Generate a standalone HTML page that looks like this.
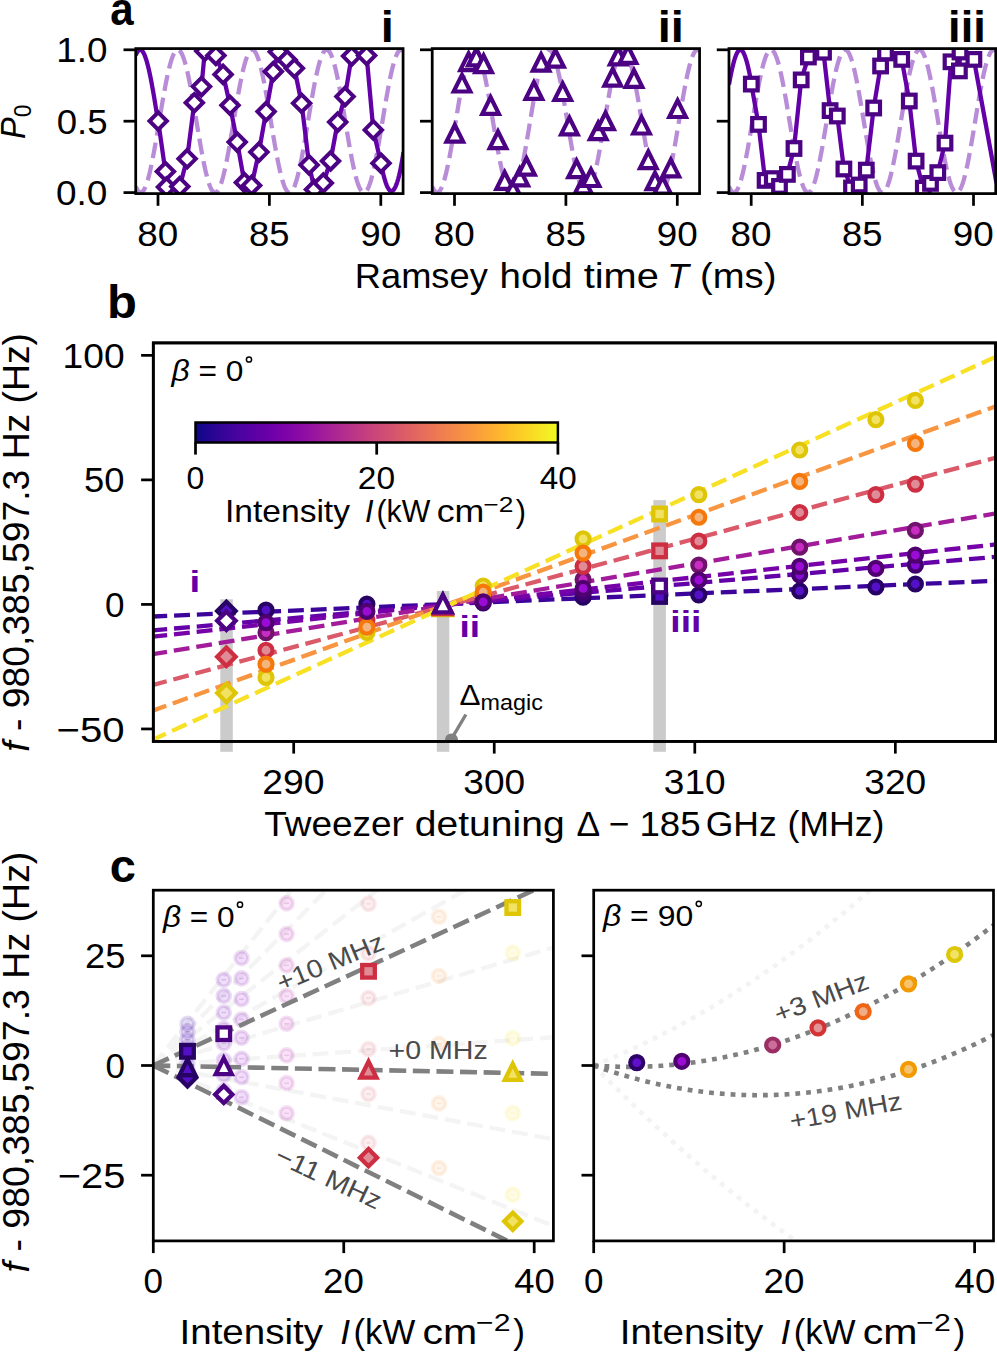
<!DOCTYPE html>
<html><head><meta charset="utf-8"><style>
html,body{margin:0;padding:0;background:#fff;}
svg{display:block;font-family:"Liberation Sans", sans-serif;}
</style></head><body>
<svg width="997" height="1352" viewBox="0 0 997 1352">
<rect width="997" height="1352" fill="#fff"/>
<defs>
<clipPath id="ca0"><rect x="135.72" y="48.6" width="267.36" height="145"/></clipPath>
<clipPath id="ca1"><rect x="432.22" y="48.6" width="267.36" height="145"/></clipPath>
<clipPath id="ca2"><rect x="728.97" y="48.6" width="266.76" height="145"/></clipPath>
<clipPath id="cb"><rect x="153.3" y="342.9" width="842.3" height="398.5"/></clipPath>
<clipPath id="cc1"><rect x="153.3" y="890.2" width="400.1" height="350.7"/></clipPath>
<clipPath id="cc2"><rect x="593.7" y="890.2" width="399.8" height="350.7"/></clipPath>
</defs>
<g clip-path="url(#ca0)">
<path d="M135.72 186.57 L136.39 188.09 L137.06 189.39 L137.73 190.48 L138.39 191.34 L139.06 191.98 L139.73 192.4 L140.4 192.59 L141.07 192.55 L141.74 192.28 L142.4 191.79 L143.07 191.08 L143.74 190.14 L144.41 188.98 L145.08 187.61 L145.75 186.02 L146.41 184.23 L147.08 182.24 L147.75 180.05 L148.42 177.67 L149.09 175.12 L149.76 172.39 L150.42 169.51 L151.09 166.46 L151.76 163.28 L152.43 159.96 L153.1 156.51 L153.77 152.95 L154.44 149.3 L155.1 145.55 L155.77 141.73 L156.44 137.84 L157.11 133.89 L157.78 129.91 L158.45 125.9 L159.11 121.87 L159.78 117.84 L160.45 113.83 L161.12 109.83 L161.79 105.87 L162.46 101.96 L163.12 98.12 L163.79 94.34 L164.46 90.65 L165.13 87.06 L165.8 83.58 L166.47 80.22 L167.13 76.98 L167.8 73.89 L168.47 70.95 L169.14 68.17 L169.81 65.56 L170.48 63.12 L171.15 60.87 L171.81 58.81 L172.48 56.95 L173.15 55.3 L173.82 53.85 L174.49 52.62 L175.16 51.61 L175.82 50.82 L176.49 50.25 L177.16 49.91 L177.83 49.8 L178.5 49.91 L179.17 50.25 L179.83 50.82 L180.5 51.61 L181.17 52.62 L181.84 53.85 L182.51 55.3 L183.18 56.95 L183.84 58.81 L184.51 60.87 L185.18 63.12 L185.85 65.56 L186.52 68.17 L187.19 70.95 L187.86 73.89 L188.52 76.98 L189.19 80.22 L189.86 83.58 L190.53 87.06 L191.2 90.65 L191.87 94.34 L192.53 98.12 L193.2 101.96 L193.87 105.87 L194.54 109.83 L195.21 113.83 L195.88 117.84 L196.54 121.87 L197.21 125.9 L197.88 129.91 L198.55 133.89 L199.22 137.84 L199.89 141.73 L200.55 145.55 L201.22 149.3 L201.89 152.95 L202.56 156.51 L203.23 159.96 L203.9 163.28 L204.57 166.46 L205.23 169.51 L205.9 172.39 L206.57 175.12 L207.24 177.67 L207.91 180.05 L208.58 182.24 L209.24 184.23 L209.91 186.02 L210.58 187.61 L211.25 188.98 L211.92 190.14 L212.59 191.08 L213.25 191.79 L213.92 192.28 L214.59 192.55 L215.26 192.59 L215.93 192.4 L216.6 191.98 L217.26 191.34 L217.93 190.48 L218.6 189.39 L219.27 188.09 L219.94 186.57 L220.61 184.85 L221.28 182.92 L221.94 180.8 L222.61 178.49 L223.28 175.99 L223.95 173.32 L224.62 170.49 L225.29 167.49 L225.95 164.35 L226.62 161.08 L227.29 157.67 L227.96 154.15 L228.63 150.53 L229.3 146.81 L229.96 143.01 L230.63 139.14 L231.3 135.21 L231.97 131.24 L232.64 127.24 L233.31 123.21 L233.97 119.19 L234.64 115.16 L235.31 111.16 L235.98 107.19 L236.65 103.26 L237.32 99.39 L237.99 95.59 L238.65 91.87 L239.32 88.25 L239.99 84.73 L240.66 81.32 L241.33 78.05 L242 74.91 L242.66 71.91 L243.33 69.08 L244 66.41 L244.67 63.91 L245.34 61.6 L246.01 59.48 L246.67 57.55 L247.34 55.83 L248.01 54.31 L248.68 53.01 L249.35 51.92 L250.02 51.06 L250.68 50.42 L251.35 50 L252.02 49.81 L252.69 49.85 L253.36 50.12 L254.03 50.61 L254.7 51.32 L255.36 52.26 L256.03 53.42 L256.7 54.79 L257.37 56.38 L258.04 58.17 L258.71 60.16 L259.37 62.35 L260.04 64.73 L260.71 67.28 L261.38 70.01 L262.05 72.89 L262.72 75.94 L263.38 79.12 L264.05 82.44 L264.72 85.89 L265.39 89.45 L266.06 93.1 L266.73 96.85 L267.39 100.67 L268.06 104.56 L268.73 108.51 L269.4 112.49 L270.07 116.5 L270.74 120.53 L271.41 124.56 L272.07 128.57 L272.74 132.57 L273.41 136.53 L274.08 140.44 L274.75 144.28 L275.42 148.06 L276.08 151.75 L276.75 155.34 L277.42 158.82 L278.09 162.18 L278.76 165.42 L279.43 168.51 L280.09 171.45 L280.76 174.23 L281.43 176.84 L282.1 179.28 L282.77 181.53 L283.44 183.59 L284.1 185.45 L284.77 187.1 L285.44 188.55 L286.11 189.78 L286.78 190.79 L287.45 191.58 L288.12 192.15 L288.78 192.49 L289.45 192.6 L290.12 192.49 L290.79 192.15 L291.46 191.58 L292.13 190.79 L292.79 189.78 L293.46 188.55 L294.13 187.1 L294.8 185.45 L295.47 183.59 L296.14 181.53 L296.8 179.28 L297.47 176.84 L298.14 174.23 L298.81 171.45 L299.48 168.51 L300.15 165.42 L300.81 162.18 L301.48 158.82 L302.15 155.34 L302.82 151.75 L303.49 148.06 L304.16 144.28 L304.83 140.44 L305.49 136.53 L306.16 132.57 L306.83 128.57 L307.5 124.56 L308.17 120.53 L308.84 116.5 L309.5 112.49 L310.17 108.51 L310.84 104.56 L311.51 100.67 L312.18 96.85 L312.85 93.1 L313.51 89.45 L314.18 85.89 L314.85 82.44 L315.52 79.12 L316.19 75.94 L316.86 72.89 L317.52 70.01 L318.19 67.28 L318.86 64.73 L319.53 62.35 L320.2 60.16 L320.87 58.17 L321.54 56.38 L322.2 54.79 L322.87 53.42 L323.54 52.26 L324.21 51.32 L324.88 50.61 L325.55 50.12 L326.21 49.85 L326.88 49.81 L327.55 50 L328.22 50.42 L328.89 51.06 L329.56 51.92 L330.22 53.01 L330.89 54.31 L331.56 55.83 L332.23 57.55 L332.9 59.48 L333.57 61.6 L334.23 63.91 L334.9 66.41 L335.57 69.08 L336.24 71.91 L336.91 74.91 L337.58 78.05 L338.25 81.32 L338.91 84.73 L339.58 88.25 L340.25 91.87 L340.92 95.59 L341.59 99.39 L342.26 103.26 L342.92 107.19 L343.59 111.16 L344.26 115.16 L344.93 119.19 L345.6 123.21 L346.27 127.24 L346.93 131.24 L347.6 135.21 L348.27 139.14 L348.94 143.01 L349.61 146.81 L350.28 150.53 L350.94 154.15 L351.61 157.67 L352.28 161.08 L352.95 164.35 L353.62 167.49 L354.29 170.49 L354.96 173.32 L355.62 175.99 L356.29 178.49 L356.96 180.8 L357.63 182.92 L358.3 184.85 L358.97 186.57 L359.63 188.09 L360.3 189.39 L360.97 190.48 L361.64 191.34 L362.31 191.98 L362.98 192.4 L363.64 192.59 L364.31 192.55 L364.98 192.28 L365.65 191.79 L366.32 191.08 L366.99 190.14 L367.65 188.98 L368.32 187.61 L368.99 186.02 L369.66 184.23 L370.33 182.24 L371 180.05 L371.67 177.67 L372.33 175.12 L373 172.39 L373.67 169.51 L374.34 166.46 L375.01 163.28 L375.68 159.96 L376.34 156.51 L377.01 152.95 L377.68 149.3 L378.35 145.55 L379.02 141.73 L379.69 137.84 L380.35 133.89 L381.02 129.91 L381.69 125.9 L382.36 121.87 L383.03 117.84 L383.7 113.83 L384.36 109.83 L385.03 105.87 L385.7 101.96 L386.37 98.12 L387.04 94.34 L387.71 90.65 L388.38 87.06 L389.04 83.58 L389.71 80.22 L390.38 76.98 L391.05 73.89 L391.72 70.95 L392.39 68.17 L393.05 65.56 L393.72 63.12 L394.39 60.87 L395.06 58.81 L395.73 56.95 L396.4 55.3 L397.06 53.85 L397.73 52.62 L398.4 51.61 L399.07 50.82 L399.74 50.25 L400.41 49.91 L401.07 49.8 L401.74 49.91 L402.41 50.25 L403.08 50.82" fill="none" stroke="#b98cd8" stroke-width="4.3" stroke-dasharray="15.9 6.9" stroke-linejoin="round"/>
<path d="M135.72 55.24 L136.28 53.97 L136.83 52.87 L137.39 51.94 L137.95 51.17 L138.5 50.57 L139.06 50.14 L139.62 49.89 L140.18 49.8 L140.73 49.89 L141.29 50.14 L141.85 50.57 L142.4 51.17 L142.96 51.94 L143.52 52.87 L144.07 53.97 L144.63 55.24 L145.19 56.66 L145.75 58.23 L146.3 59.96 L146.86 61.83 L147.42 63.85 L147.97 66.01 L148.53 68.3 L149.09 70.71 L149.65 73.25 L150.2 75.9 L150.76 78.67 L151.32 81.53 L151.87 84.49 L152.43 87.54 L152.99 90.67 L153.54 93.88 L154.1 97.15 L154.66 100.47 L155.22 103.85 L155.77 107.27 L156.33 110.72 L156.89 114.2 L157.44 117.7 L158.2 121 L165.4 171.5 L166.5 187.1 L179.8 186.5 L187.1 158.8 L194.3 102.7 L201.5 86.6 L204.8 51.1 L215.9 55.5 L223.1 74.4 L230 105.3 L237.2 142.1 L244.4 182.6 L251.6 185.4 L258.9 152.1 L266.1 111.6 L273.3 71.6 L278.3 51.7 L287.2 60 L294.4 68.3 L301.6 103.3 L309.1 164.9 L314.5 189.5 L323.3 183 L330.5 161 L337.7 122.1 L345 96.6 L351.6 56.1 L366.6 55.5 L373.3 129.9 L381 163.2 L381.79 167.24 L382.58 170.95 L383.37 174.36 L384.16 177.45 L384.95 180.22 L385.74 182.67 L386.52 184.81 L387.31 186.64 L388.09 188.15 L388.87 189.34 L389.65 190.22 L390.43 190.78 L391.21 191.02 L391.99 190.95 L392.76 190.57 L393.54 189.87 L394.31 188.85 L395.08 187.51 L395.85 185.86 L396.62 183.9 L397.39 181.62 L398.16 179.02 L398.93 176.11 L399.69 172.88 L400.46 169.34 L401.22 165.48 L401.98 161.3 L402.74 156.81 L403.5 152" fill="none" stroke="#6400a7" stroke-width="4.3" stroke-linejoin="round"/>
<path d="M158.2 112.3L166.9 121L158.2 129.7L149.5 121Z" fill="#fff" stroke="#4b0283" stroke-width="4" stroke-linejoin="miter"/>
<path d="M165.4 162.8L174.1 171.5L165.4 180.2L156.7 171.5Z" fill="#fff" stroke="#4b0283" stroke-width="4" stroke-linejoin="miter"/>
<path d="M166.5 178.4L175.2 187.1L166.5 195.8L157.8 187.1Z" fill="#fff" stroke="#4b0283" stroke-width="4" stroke-linejoin="miter"/>
<path d="M179.8 177.8L188.5 186.5L179.8 195.2L171.1 186.5Z" fill="#fff" stroke="#4b0283" stroke-width="4" stroke-linejoin="miter"/>
<path d="M187.1 150.1L195.8 158.8L187.1 167.5L178.4 158.8Z" fill="#fff" stroke="#4b0283" stroke-width="4" stroke-linejoin="miter"/>
<path d="M194.3 94L203 102.7L194.3 111.4L185.6 102.7Z" fill="#fff" stroke="#4b0283" stroke-width="4" stroke-linejoin="miter"/>
<path d="M201.5 77.9L210.2 86.6L201.5 95.3L192.8 86.6Z" fill="#fff" stroke="#4b0283" stroke-width="4" stroke-linejoin="miter"/>
<path d="M204.8 42.4L213.5 51.1L204.8 59.8L196.1 51.1Z" fill="#fff" stroke="#4b0283" stroke-width="4" stroke-linejoin="miter"/>
<path d="M215.9 46.8L224.6 55.5L215.9 64.2L207.2 55.5Z" fill="#fff" stroke="#4b0283" stroke-width="4" stroke-linejoin="miter"/>
<path d="M223.1 65.7L231.8 74.4L223.1 83.1L214.4 74.4Z" fill="#fff" stroke="#4b0283" stroke-width="4" stroke-linejoin="miter"/>
<path d="M230 96.6L238.7 105.3L230 114L221.3 105.3Z" fill="#fff" stroke="#4b0283" stroke-width="4" stroke-linejoin="miter"/>
<path d="M237.2 133.4L245.9 142.1L237.2 150.8L228.5 142.1Z" fill="#fff" stroke="#4b0283" stroke-width="4" stroke-linejoin="miter"/>
<path d="M244.4 173.9L253.1 182.6L244.4 191.3L235.7 182.6Z" fill="#fff" stroke="#4b0283" stroke-width="4" stroke-linejoin="miter"/>
<path d="M251.6 176.7L260.3 185.4L251.6 194.1L242.9 185.4Z" fill="#fff" stroke="#4b0283" stroke-width="4" stroke-linejoin="miter"/>
<path d="M258.9 143.4L267.6 152.1L258.9 160.8L250.2 152.1Z" fill="#fff" stroke="#4b0283" stroke-width="4" stroke-linejoin="miter"/>
<path d="M266.1 102.9L274.8 111.6L266.1 120.3L257.4 111.6Z" fill="#fff" stroke="#4b0283" stroke-width="4" stroke-linejoin="miter"/>
<path d="M273.3 62.9L282 71.6L273.3 80.3L264.6 71.6Z" fill="#fff" stroke="#4b0283" stroke-width="4" stroke-linejoin="miter"/>
<path d="M278.3 43L287 51.7L278.3 60.4L269.6 51.7Z" fill="#fff" stroke="#4b0283" stroke-width="4" stroke-linejoin="miter"/>
<path d="M287.2 51.3L295.9 60L287.2 68.7L278.5 60Z" fill="#fff" stroke="#4b0283" stroke-width="4" stroke-linejoin="miter"/>
<path d="M294.4 59.6L303.1 68.3L294.4 77L285.7 68.3Z" fill="#fff" stroke="#4b0283" stroke-width="4" stroke-linejoin="miter"/>
<path d="M301.6 94.6L310.3 103.3L301.6 112L292.9 103.3Z" fill="#fff" stroke="#4b0283" stroke-width="4" stroke-linejoin="miter"/>
<path d="M309.1 156.2L317.8 164.9L309.1 173.6L300.4 164.9Z" fill="#fff" stroke="#4b0283" stroke-width="4" stroke-linejoin="miter"/>
<path d="M314.5 180.8L323.2 189.5L314.5 198.2L305.8 189.5Z" fill="#fff" stroke="#4b0283" stroke-width="4" stroke-linejoin="miter"/>
<path d="M323.3 174.3L332 183L323.3 191.7L314.6 183Z" fill="#fff" stroke="#4b0283" stroke-width="4" stroke-linejoin="miter"/>
<path d="M330.5 152.3L339.2 161L330.5 169.7L321.8 161Z" fill="#fff" stroke="#4b0283" stroke-width="4" stroke-linejoin="miter"/>
<path d="M337.7 113.4L346.4 122.1L337.7 130.8L329 122.1Z" fill="#fff" stroke="#4b0283" stroke-width="4" stroke-linejoin="miter"/>
<path d="M345 87.9L353.7 96.6L345 105.3L336.3 96.6Z" fill="#fff" stroke="#4b0283" stroke-width="4" stroke-linejoin="miter"/>
<path d="M351.6 47.4L360.3 56.1L351.6 64.8L342.9 56.1Z" fill="#fff" stroke="#4b0283" stroke-width="4" stroke-linejoin="miter"/>
<path d="M366.6 46.8L375.3 55.5L366.6 64.2L357.9 55.5Z" fill="#fff" stroke="#4b0283" stroke-width="4" stroke-linejoin="miter"/>
<path d="M373.3 121.2L382 129.9L373.3 138.6L364.6 129.9Z" fill="#fff" stroke="#4b0283" stroke-width="4" stroke-linejoin="miter"/>
<path d="M381 154.5L389.7 163.2L381 171.9L372.3 163.2Z" fill="#fff" stroke="#4b0283" stroke-width="4" stroke-linejoin="miter"/>
</g>
<rect x="135.72" y="48.6" width="267.36" height="145" fill="none" stroke="#000" stroke-width="2.74" stroke-linejoin="miter"/>
<line x1="158" y1="193.6" x2="158" y2="205.8" stroke="#000" stroke-width="2.74"/>
<text x="137.36" y="246" font-size="35.4" fill="#000" textLength="41" lengthAdjust="spacingAndGlyphs"><tspan>80</tspan></text>
<line x1="269.4" y1="193.6" x2="269.4" y2="205.8" stroke="#000" stroke-width="2.74"/>
<text x="249.11" y="246" font-size="35.4" fill="#000" textLength="40.47" lengthAdjust="spacingAndGlyphs"><tspan>85</tspan></text>
<line x1="380.8" y1="193.6" x2="380.8" y2="205.8" stroke="#000" stroke-width="2.74"/>
<text x="360.16" y="246" font-size="35.4" fill="#000" textLength="41" lengthAdjust="spacingAndGlyphs"><tspan>90</tspan></text>
<line x1="135.72" y1="192.6" x2="123.52" y2="192.6" stroke="#000" stroke-width="2.74"/>
<line x1="135.72" y1="121.2" x2="123.52" y2="121.2" stroke="#000" stroke-width="2.74"/>
<line x1="135.72" y1="49.8" x2="123.52" y2="49.8" stroke="#000" stroke-width="2.74"/>
<text x="56" y="205.17" font-size="35.4" fill="#000" textLength="51.4" lengthAdjust="spacingAndGlyphs"><tspan>0.0</tspan></text>
<text x="56.68" y="133.77" font-size="35.4" fill="#000" textLength="50.89" lengthAdjust="spacingAndGlyphs"><tspan>0.5</tspan></text>
<text x="56.22" y="62.37" font-size="35.4" fill="#000" textLength="51.17" lengthAdjust="spacingAndGlyphs"><tspan>1.0</tspan></text>
<g clip-path="url(#ca1)">
<path d="M432.22 186.57 L432.89 188.09 L433.56 189.39 L434.23 190.48 L434.89 191.34 L435.56 191.98 L436.23 192.4 L436.9 192.59 L437.57 192.55 L438.24 192.28 L438.9 191.79 L439.57 191.08 L440.24 190.14 L440.91 188.98 L441.58 187.61 L442.25 186.02 L442.91 184.23 L443.58 182.24 L444.25 180.05 L444.92 177.67 L445.59 175.12 L446.26 172.39 L446.92 169.51 L447.59 166.46 L448.26 163.28 L448.93 159.96 L449.6 156.51 L450.27 152.95 L450.94 149.3 L451.6 145.55 L452.27 141.73 L452.94 137.84 L453.61 133.89 L454.28 129.91 L454.95 125.9 L455.61 121.87 L456.28 117.84 L456.95 113.83 L457.62 109.83 L458.29 105.87 L458.96 101.96 L459.62 98.12 L460.29 94.34 L460.96 90.65 L461.63 87.06 L462.3 83.58 L462.97 80.22 L463.63 76.98 L464.3 73.89 L464.97 70.95 L465.64 68.17 L466.31 65.56 L466.98 63.12 L467.65 60.87 L468.31 58.81 L468.98 56.95 L469.65 55.3 L470.32 53.85 L470.99 52.62 L471.66 51.61 L472.32 50.82 L472.99 50.25 L473.66 49.91 L474.33 49.8 L475 49.91 L475.67 50.25 L476.33 50.82 L477 51.61 L477.67 52.62 L478.34 53.85 L479.01 55.3 L479.68 56.95 L480.34 58.81 L481.01 60.87 L481.68 63.12 L482.35 65.56 L483.02 68.17 L483.69 70.95 L484.36 73.89 L485.02 76.98 L485.69 80.22 L486.36 83.58 L487.03 87.06 L487.7 90.65 L488.37 94.34 L489.03 98.12 L489.7 101.96 L490.37 105.87 L491.04 109.83 L491.71 113.83 L492.38 117.84 L493.04 121.87 L493.71 125.9 L494.38 129.91 L495.05 133.89 L495.72 137.84 L496.39 141.73 L497.05 145.55 L497.72 149.3 L498.39 152.95 L499.06 156.51 L499.73 159.96 L500.4 163.28 L501.07 166.46 L501.73 169.51 L502.4 172.39 L503.07 175.12 L503.74 177.67 L504.41 180.05 L505.08 182.24 L505.74 184.23 L506.41 186.02 L507.08 187.61 L507.75 188.98 L508.42 190.14 L509.09 191.08 L509.75 191.79 L510.42 192.28 L511.09 192.55 L511.76 192.59 L512.43 192.4 L513.1 191.98 L513.76 191.34 L514.43 190.48 L515.1 189.39 L515.77 188.09 L516.44 186.57 L517.11 184.85 L517.78 182.92 L518.44 180.8 L519.11 178.49 L519.78 175.99 L520.45 173.32 L521.12 170.49 L521.79 167.49 L522.45 164.35 L523.12 161.08 L523.79 157.67 L524.46 154.15 L525.13 150.53 L525.8 146.81 L526.46 143.01 L527.13 139.14 L527.8 135.21 L528.47 131.24 L529.14 127.24 L529.81 123.21 L530.47 119.19 L531.14 115.16 L531.81 111.16 L532.48 107.19 L533.15 103.26 L533.82 99.39 L534.49 95.59 L535.15 91.87 L535.82 88.25 L536.49 84.73 L537.16 81.32 L537.83 78.05 L538.5 74.91 L539.16 71.91 L539.83 69.08 L540.5 66.41 L541.17 63.91 L541.84 61.6 L542.51 59.48 L543.17 57.55 L543.84 55.83 L544.51 54.31 L545.18 53.01 L545.85 51.92 L546.52 51.06 L547.18 50.42 L547.85 50 L548.52 49.81 L549.19 49.85 L549.86 50.12 L550.53 50.61 L551.2 51.32 L551.86 52.26 L552.53 53.42 L553.2 54.79 L553.87 56.38 L554.54 58.17 L555.21 60.16 L555.87 62.35 L556.54 64.73 L557.21 67.28 L557.88 70.01 L558.55 72.89 L559.22 75.94 L559.88 79.12 L560.55 82.44 L561.22 85.89 L561.89 89.45 L562.56 93.1 L563.23 96.85 L563.89 100.67 L564.56 104.56 L565.23 108.51 L565.9 112.49 L566.57 116.5 L567.24 120.53 L567.91 124.56 L568.57 128.57 L569.24 132.57 L569.91 136.53 L570.58 140.44 L571.25 144.28 L571.92 148.06 L572.58 151.75 L573.25 155.34 L573.92 158.82 L574.59 162.18 L575.26 165.42 L575.93 168.51 L576.59 171.45 L577.26 174.23 L577.93 176.84 L578.6 179.28 L579.27 181.53 L579.94 183.59 L580.6 185.45 L581.27 187.1 L581.94 188.55 L582.61 189.78 L583.28 190.79 L583.95 191.58 L584.62 192.15 L585.28 192.49 L585.95 192.6 L586.62 192.49 L587.29 192.15 L587.96 191.58 L588.63 190.79 L589.29 189.78 L589.96 188.55 L590.63 187.1 L591.3 185.45 L591.97 183.59 L592.64 181.53 L593.3 179.28 L593.97 176.84 L594.64 174.23 L595.31 171.45 L595.98 168.51 L596.65 165.42 L597.31 162.18 L597.98 158.82 L598.65 155.34 L599.32 151.75 L599.99 148.06 L600.66 144.28 L601.33 140.44 L601.99 136.53 L602.66 132.57 L603.33 128.57 L604 124.56 L604.67 120.53 L605.34 116.5 L606 112.49 L606.67 108.51 L607.34 104.56 L608.01 100.67 L608.68 96.85 L609.35 93.1 L610.01 89.45 L610.68 85.89 L611.35 82.44 L612.02 79.12 L612.69 75.94 L613.36 72.89 L614.02 70.01 L614.69 67.28 L615.36 64.73 L616.03 62.35 L616.7 60.16 L617.37 58.17 L618.04 56.38 L618.7 54.79 L619.37 53.42 L620.04 52.26 L620.71 51.32 L621.38 50.61 L622.05 50.12 L622.71 49.85 L623.38 49.81 L624.05 50 L624.72 50.42 L625.39 51.06 L626.06 51.92 L626.72 53.01 L627.39 54.31 L628.06 55.83 L628.73 57.55 L629.4 59.48 L630.07 61.6 L630.73 63.91 L631.4 66.41 L632.07 69.08 L632.74 71.91 L633.41 74.91 L634.08 78.05 L634.75 81.32 L635.41 84.73 L636.08 88.25 L636.75 91.87 L637.42 95.59 L638.09 99.39 L638.76 103.26 L639.42 107.19 L640.09 111.16 L640.76 115.16 L641.43 119.19 L642.1 123.21 L642.77 127.24 L643.43 131.24 L644.1 135.21 L644.77 139.14 L645.44 143.01 L646.11 146.81 L646.78 150.53 L647.44 154.15 L648.11 157.67 L648.78 161.08 L649.45 164.35 L650.12 167.49 L650.79 170.49 L651.46 173.32 L652.12 175.99 L652.79 178.49 L653.46 180.8 L654.13 182.92 L654.8 184.85 L655.47 186.57 L656.13 188.09 L656.8 189.39 L657.47 190.48 L658.14 191.34 L658.81 191.98 L659.48 192.4 L660.14 192.59 L660.81 192.55 L661.48 192.28 L662.15 191.79 L662.82 191.08 L663.49 190.14 L664.15 188.98 L664.82 187.61 L665.49 186.02 L666.16 184.23 L666.83 182.24 L667.5 180.05 L668.17 177.67 L668.83 175.12 L669.5 172.39 L670.17 169.51 L670.84 166.46 L671.51 163.28 L672.18 159.96 L672.84 156.51 L673.51 152.95 L674.18 149.3 L674.85 145.55 L675.52 141.73 L676.19 137.84 L676.85 133.89 L677.52 129.91 L678.19 125.9 L678.86 121.87 L679.53 117.84 L680.2 113.83 L680.86 109.83 L681.53 105.87 L682.2 101.96 L682.87 98.12 L683.54 94.34 L684.21 90.65 L684.88 87.06 L685.54 83.58 L686.21 80.22 L686.88 76.98 L687.55 73.89 L688.22 70.95 L688.89 68.17 L689.55 65.56 L690.22 63.12 L690.89 60.87 L691.56 58.81 L692.23 56.95 L692.9 55.3 L693.56 53.85 L694.23 52.62 L694.9 51.61 L695.57 50.82 L696.24 50.25 L696.91 49.91 L697.57 49.8 L698.24 49.91 L698.91 50.25 L699.58 50.82" fill="none" stroke="#b98cd8" stroke-width="4.3" stroke-dasharray="15.9 6.9" stroke-linejoin="round"/>
<path d="M454.8 125L463.1 141.6L446.5 141.6Z" fill="#fff" stroke="#4b0283" stroke-width="4.2" stroke-linejoin="miter" stroke-miterlimit="10"/>
<path d="M462 74.9L470.3 91.5L453.7 91.5Z" fill="#fff" stroke="#4b0283" stroke-width="4.2" stroke-linejoin="miter" stroke-miterlimit="10"/>
<path d="M468.6 53.5L476.9 70.1L460.3 70.1Z" fill="#fff" stroke="#4b0283" stroke-width="4.2" stroke-linejoin="miter" stroke-miterlimit="10"/>
<path d="M476.4 48.8L484.7 65.4L468.1 65.4Z" fill="#fff" stroke="#4b0283" stroke-width="4.2" stroke-linejoin="miter" stroke-miterlimit="10"/>
<path d="M483.6 55.5L491.9 72.1L475.3 72.1Z" fill="#fff" stroke="#4b0283" stroke-width="4.2" stroke-linejoin="miter" stroke-miterlimit="10"/>
<path d="M490.6 97.3L498.9 113.9L482.3 113.9Z" fill="#fff" stroke="#4b0283" stroke-width="4.2" stroke-linejoin="miter" stroke-miterlimit="10"/>
<path d="M498 131.5L506.3 148.1L489.7 148.1Z" fill="#fff" stroke="#4b0283" stroke-width="4.2" stroke-linejoin="miter" stroke-miterlimit="10"/>
<path d="M504.7 172.2L513 188.8L496.4 188.8Z" fill="#fff" stroke="#4b0283" stroke-width="4.2" stroke-linejoin="miter" stroke-miterlimit="10"/>
<path d="M513 181.2L521.3 197.8L504.7 197.8Z" fill="#fff" stroke="#4b0283" stroke-width="4.2" stroke-linejoin="miter" stroke-miterlimit="10"/>
<path d="M519.7 168.7L528 185.3L511.4 185.3Z" fill="#fff" stroke="#4b0283" stroke-width="4.2" stroke-linejoin="miter" stroke-miterlimit="10"/>
<path d="M526.5 158.1L534.8 174.7L518.2 174.7Z" fill="#fff" stroke="#4b0283" stroke-width="4.2" stroke-linejoin="miter" stroke-miterlimit="10"/>
<path d="M533.9 82.3L542.2 98.9L525.6 98.9Z" fill="#fff" stroke="#4b0283" stroke-width="4.2" stroke-linejoin="miter" stroke-miterlimit="10"/>
<path d="M541.1 54.1L549.4 70.7L532.8 70.7Z" fill="#fff" stroke="#4b0283" stroke-width="4.2" stroke-linejoin="miter" stroke-miterlimit="10"/>
<path d="M555.5 50.1L563.8 66.7L547.2 66.7Z" fill="#fff" stroke="#4b0283" stroke-width="4.2" stroke-linejoin="miter" stroke-miterlimit="10"/>
<path d="M562.7 83.4L571 100L554.4 100Z" fill="#fff" stroke="#4b0283" stroke-width="4.2" stroke-linejoin="miter" stroke-miterlimit="10"/>
<path d="M569.4 117.8L577.7 134.4L561.1 134.4Z" fill="#fff" stroke="#4b0283" stroke-width="4.2" stroke-linejoin="miter" stroke-miterlimit="10"/>
<path d="M576.6 160.6L584.9 177.2L568.3 177.2Z" fill="#fff" stroke="#4b0283" stroke-width="4.2" stroke-linejoin="miter" stroke-miterlimit="10"/>
<path d="M583.3 176.7L591.6 193.3L575 193.3Z" fill="#fff" stroke="#4b0283" stroke-width="4.2" stroke-linejoin="miter" stroke-miterlimit="10"/>
<path d="M591 169.4L599.3 186L582.7 186Z" fill="#fff" stroke="#4b0283" stroke-width="4.2" stroke-linejoin="miter" stroke-miterlimit="10"/>
<path d="M598.2 122.6L606.5 139.2L589.9 139.2Z" fill="#fff" stroke="#4b0283" stroke-width="4.2" stroke-linejoin="miter" stroke-miterlimit="10"/>
<path d="M605.5 112.6L613.8 129.2L597.2 129.2Z" fill="#fff" stroke="#4b0283" stroke-width="4.2" stroke-linejoin="miter" stroke-miterlimit="10"/>
<path d="M612.7 69L621 85.6L604.4 85.6Z" fill="#fff" stroke="#4b0283" stroke-width="4.2" stroke-linejoin="miter" stroke-miterlimit="10"/>
<path d="M618.2 47.7L626.5 64.3L609.9 64.3Z" fill="#fff" stroke="#4b0283" stroke-width="4.2" stroke-linejoin="miter" stroke-miterlimit="10"/>
<path d="M628 46.2L636.3 62.8L619.7 62.8Z" fill="#fff" stroke="#4b0283" stroke-width="4.2" stroke-linejoin="miter" stroke-miterlimit="10"/>
<path d="M634 70.3L642.3 86.9L625.7 86.9Z" fill="#fff" stroke="#4b0283" stroke-width="4.2" stroke-linejoin="miter" stroke-miterlimit="10"/>
<path d="M641.5 116.9L649.8 133.5L633.2 133.5Z" fill="#fff" stroke="#4b0283" stroke-width="4.2" stroke-linejoin="miter" stroke-miterlimit="10"/>
<path d="M648.3 151.5L656.6 168.1L640 168.1Z" fill="#fff" stroke="#4b0283" stroke-width="4.2" stroke-linejoin="miter" stroke-miterlimit="10"/>
<path d="M655 172.6L663.3 189.2L646.7 189.2Z" fill="#fff" stroke="#4b0283" stroke-width="4.2" stroke-linejoin="miter" stroke-miterlimit="10"/>
<path d="M662.6 177.1L670.9 193.7L654.3 193.7Z" fill="#fff" stroke="#4b0283" stroke-width="4.2" stroke-linejoin="miter" stroke-miterlimit="10"/>
<path d="M670.8 159.8L679.1 176.4L662.5 176.4Z" fill="#fff" stroke="#4b0283" stroke-width="4.2" stroke-linejoin="miter" stroke-miterlimit="10"/>
<path d="M677.6 100.4L685.9 117L669.3 117Z" fill="#fff" stroke="#4b0283" stroke-width="4.2" stroke-linejoin="miter" stroke-miterlimit="10"/>
</g>
<rect x="432.22" y="48.6" width="267.36" height="145" fill="none" stroke="#000" stroke-width="2.74" stroke-linejoin="miter"/>
<line x1="454.5" y1="193.6" x2="454.5" y2="205.8" stroke="#000" stroke-width="2.74"/>
<text x="433.86" y="246" font-size="35.4" fill="#000" textLength="41" lengthAdjust="spacingAndGlyphs"><tspan>80</tspan></text>
<line x1="565.9" y1="193.6" x2="565.9" y2="205.8" stroke="#000" stroke-width="2.74"/>
<text x="545.61" y="246" font-size="35.4" fill="#000" textLength="40.47" lengthAdjust="spacingAndGlyphs"><tspan>85</tspan></text>
<line x1="677.3" y1="193.6" x2="677.3" y2="205.8" stroke="#000" stroke-width="2.74"/>
<text x="656.66" y="246" font-size="35.4" fill="#000" textLength="41" lengthAdjust="spacingAndGlyphs"><tspan>90</tspan></text>
<line x1="432.22" y1="192.6" x2="420.02" y2="192.6" stroke="#000" stroke-width="2.74"/>
<line x1="432.22" y1="121.2" x2="420.02" y2="121.2" stroke="#000" stroke-width="2.74"/>
<line x1="432.22" y1="49.8" x2="420.02" y2="49.8" stroke="#000" stroke-width="2.74"/>
<g clip-path="url(#ca2)">
<path d="M728.97 186.57 L729.64 188.09 L730.3 189.39 L730.97 190.48 L731.64 191.34 L732.3 191.98 L732.97 192.4 L733.64 192.59 L734.31 192.55 L734.97 192.28 L735.64 191.79 L736.31 191.08 L736.97 190.14 L737.64 188.98 L738.31 187.61 L738.97 186.02 L739.64 184.23 L740.31 182.24 L740.97 180.05 L741.64 177.67 L742.31 175.12 L742.97 172.39 L743.64 169.51 L744.31 166.46 L744.98 163.28 L745.64 159.96 L746.31 156.51 L746.98 152.95 L747.64 149.3 L748.31 145.55 L748.98 141.73 L749.64 137.84 L750.31 133.89 L750.98 129.91 L751.64 125.9 L752.31 121.87 L752.98 117.84 L753.65 113.83 L754.31 109.83 L754.98 105.87 L755.65 101.96 L756.31 98.12 L756.98 94.34 L757.65 90.65 L758.31 87.06 L758.98 83.58 L759.65 80.22 L760.31 76.98 L760.98 73.89 L761.65 70.95 L762.32 68.17 L762.98 65.56 L763.65 63.12 L764.32 60.87 L764.98 58.81 L765.65 56.95 L766.32 55.3 L766.98 53.85 L767.65 52.62 L768.32 51.61 L768.98 50.82 L769.65 50.25 L770.32 49.91 L770.98 49.8 L771.65 49.91 L772.32 50.25 L772.99 50.82 L773.65 51.61 L774.32 52.62 L774.99 53.85 L775.65 55.3 L776.32 56.95 L776.99 58.81 L777.65 60.87 L778.32 63.12 L778.99 65.56 L779.65 68.17 L780.32 70.95 L780.99 73.89 L781.66 76.98 L782.32 80.22 L782.99 83.58 L783.66 87.06 L784.32 90.65 L784.99 94.34 L785.66 98.12 L786.32 101.96 L786.99 105.87 L787.66 109.83 L788.32 113.83 L788.99 117.84 L789.66 121.87 L790.32 125.9 L790.99 129.91 L791.66 133.89 L792.33 137.84 L792.99 141.73 L793.66 145.55 L794.33 149.3 L794.99 152.95 L795.66 156.51 L796.33 159.96 L796.99 163.28 L797.66 166.46 L798.33 169.51 L798.99 172.39 L799.66 175.12 L800.33 177.67 L801 180.05 L801.66 182.24 L802.33 184.23 L803 186.02 L803.66 187.61 L804.33 188.98 L805 190.14 L805.66 191.08 L806.33 191.79 L807 192.28 L807.66 192.55 L808.33 192.59 L809 192.4 L809.66 191.98 L810.33 191.34 L811 190.48 L811.67 189.39 L812.33 188.09 L813 186.57 L813.67 184.85 L814.33 182.92 L815 180.8 L815.67 178.49 L816.33 175.99 L817 173.32 L817.67 170.49 L818.33 167.49 L819 164.35 L819.67 161.08 L820.34 157.67 L821 154.15 L821.67 150.53 L822.34 146.81 L823 143.01 L823.67 139.14 L824.34 135.21 L825 131.24 L825.67 127.24 L826.34 123.21 L827 119.19 L827.67 115.16 L828.34 111.16 L829.01 107.19 L829.67 103.26 L830.34 99.39 L831.01 95.59 L831.67 91.87 L832.34 88.25 L833.01 84.73 L833.67 81.32 L834.34 78.05 L835.01 74.91 L835.67 71.91 L836.34 69.08 L837.01 66.41 L837.67 63.91 L838.34 61.6 L839.01 59.48 L839.68 57.55 L840.34 55.83 L841.01 54.31 L841.68 53.01 L842.34 51.92 L843.01 51.06 L843.68 50.42 L844.34 50 L845.01 49.81 L845.68 49.85 L846.34 50.12 L847.01 50.61 L847.68 51.32 L848.35 52.26 L849.01 53.42 L849.68 54.79 L850.35 56.38 L851.01 58.17 L851.68 60.16 L852.35 62.35 L853.01 64.73 L853.68 67.28 L854.35 70.01 L855.01 72.89 L855.68 75.94 L856.35 79.12 L857.01 82.44 L857.68 85.89 L858.35 89.45 L859.02 93.1 L859.68 96.85 L860.35 100.67 L861.02 104.56 L861.68 108.51 L862.35 112.49 L863.02 116.5 L863.68 120.53 L864.35 124.56 L865.02 128.57 L865.68 132.57 L866.35 136.53 L867.02 140.44 L867.69 144.28 L868.35 148.06 L869.02 151.75 L869.69 155.34 L870.35 158.82 L871.02 162.18 L871.69 165.42 L872.35 168.51 L873.02 171.45 L873.69 174.23 L874.35 176.84 L875.02 179.28 L875.69 181.53 L876.35 183.59 L877.02 185.45 L877.69 187.1 L878.36 188.55 L879.02 189.78 L879.69 190.79 L880.36 191.58 L881.02 192.15 L881.69 192.49 L882.36 192.6 L883.02 192.49 L883.69 192.15 L884.36 191.58 L885.02 190.79 L885.69 189.78 L886.36 188.55 L887.03 187.1 L887.69 185.45 L888.36 183.59 L889.03 181.53 L889.69 179.28 L890.36 176.84 L891.03 174.23 L891.69 171.45 L892.36 168.51 L893.03 165.42 L893.69 162.18 L894.36 158.82 L895.03 155.34 L895.7 151.75 L896.36 148.06 L897.03 144.28 L897.7 140.44 L898.36 136.53 L899.03 132.57 L899.7 128.57 L900.36 124.56 L901.03 120.53 L901.7 116.5 L902.36 112.49 L903.03 108.51 L903.7 104.56 L904.36 100.67 L905.03 96.85 L905.7 93.1 L906.37 89.45 L907.03 85.89 L907.7 82.44 L908.37 79.12 L909.03 75.94 L909.7 72.89 L910.37 70.01 L911.03 67.28 L911.7 64.73 L912.37 62.35 L913.03 60.16 L913.7 58.17 L914.37 56.38 L915.04 54.79 L915.7 53.42 L916.37 52.26 L917.04 51.32 L917.7 50.61 L918.37 50.12 L919.04 49.85 L919.7 49.81 L920.37 50 L921.04 50.42 L921.7 51.06 L922.37 51.92 L923.04 53.01 L923.7 54.31 L924.37 55.83 L925.04 57.55 L925.71 59.48 L926.37 61.6 L927.04 63.91 L927.71 66.41 L928.37 69.08 L929.04 71.91 L929.71 74.91 L930.37 78.05 L931.04 81.32 L931.71 84.73 L932.37 88.25 L933.04 91.87 L933.71 95.59 L934.38 99.39 L935.04 103.26 L935.71 107.19 L936.38 111.16 L937.04 115.16 L937.71 119.19 L938.38 123.21 L939.04 127.24 L939.71 131.24 L940.38 135.21 L941.04 139.14 L941.71 143.01 L942.38 146.81 L943.04 150.53 L943.71 154.15 L944.38 157.67 L945.05 161.08 L945.71 164.35 L946.38 167.49 L947.05 170.49 L947.71 173.32 L948.38 175.99 L949.05 178.49 L949.71 180.8 L950.38 182.92 L951.05 184.85 L951.71 186.57 L952.38 188.09 L953.05 189.39 L953.72 190.48 L954.38 191.34 L955.05 191.98 L955.72 192.4 L956.38 192.59 L957.05 192.55 L957.72 192.28 L958.38 191.79 L959.05 191.08 L959.72 190.14 L960.38 188.98 L961.05 187.61 L961.72 186.02 L962.38 184.23 L963.05 182.24 L963.72 180.05 L964.39 177.67 L965.05 175.12 L965.72 172.39 L966.39 169.51 L967.05 166.46 L967.72 163.28 L968.39 159.96 L969.05 156.51 L969.72 152.95 L970.39 149.3 L971.05 145.55 L971.72 141.73 L972.39 137.84 L973.06 133.89 L973.72 129.91 L974.39 125.9 L975.06 121.87 L975.72 117.84 L976.39 113.83 L977.06 109.83 L977.72 105.87 L978.39 101.96 L979.06 98.12 L979.72 94.34 L980.39 90.65 L981.06 87.06 L981.73 83.58 L982.39 80.22 L983.06 76.98 L983.73 73.89 L984.39 70.95 L985.06 68.17 L985.73 65.56 L986.39 63.12 L987.06 60.87 L987.73 58.81 L988.39 56.95 L989.06 55.3 L989.73 53.85 L990.39 52.62 L991.06 51.61 L991.73 50.82 L992.4 50.25 L993.06 49.91 L993.73 49.8 L994.4 49.91 L995.06 50.25 L995.73 50.82" fill="none" stroke="#b98cd8" stroke-width="4.3" stroke-dasharray="15.9 6.9" stroke-linejoin="round"/>
<path d="M728.97 84.67 L729.53 81.61 L730.08 78.65 L730.64 75.8 L731.19 73.07 L731.75 70.46 L732.3 67.98 L732.86 65.64 L733.42 63.44 L733.97 61.38 L734.53 59.49 L735.08 57.75 L735.64 56.17 L736.19 54.76 L736.75 53.52 L737.31 52.46 L737.86 51.57 L738.42 50.86 L738.97 50.33 L739.53 49.98 L740.09 49.81 L740.64 49.83 L741.2 50.03 L741.75 50.42 L742.31 50.98 L742.86 51.73 L743.42 52.66 L743.98 53.76 L744.53 55.03 L745.09 56.47 L745.64 58.08 L746.2 59.85 L746.75 61.78 L747.31 63.86 L747.87 66.09 L748.42 68.46 L748.98 70.97 L749.53 73.6 L750.09 76.36 L750.64 79.23 L751.3 84.1 L758.5 124.4 L765.1 180.4 L772.3 178.6 L779.5 186.4 L787.4 174.4 L794 148.5 L801.2 79.9 L808.4 57 L823.5 52.2 L830.1 110.6 L837.3 116 L843.9 169 L851.5 188 L859.2 185 L866.3 170.1 L873.7 108 L880.6 66 L885.5 53 L901.7 59.4 L909.3 101 L916.1 161.1 L923.3 188.2 L930.5 183.4 L937.8 172.6 L945 143.1 L951 61.8 L959.4 70.9 L960 52 L973.9 59.4 L996.5 183" fill="none" stroke="#6400a7" stroke-width="4.3" stroke-linejoin="round"/>
<rect x="745" y="77.8" width="12.6" height="12.6" fill="#fff" stroke="#4b0283" stroke-width="4.2"/>
<rect x="752.2" y="118.1" width="12.6" height="12.6" fill="#fff" stroke="#4b0283" stroke-width="4.2"/>
<rect x="758.8" y="174.1" width="12.6" height="12.6" fill="#fff" stroke="#4b0283" stroke-width="4.2"/>
<rect x="766" y="172.3" width="12.6" height="12.6" fill="#fff" stroke="#4b0283" stroke-width="4.2"/>
<rect x="773.2" y="180.1" width="12.6" height="12.6" fill="#fff" stroke="#4b0283" stroke-width="4.2"/>
<rect x="781.1" y="168.1" width="12.6" height="12.6" fill="#fff" stroke="#4b0283" stroke-width="4.2"/>
<rect x="787.7" y="142.2" width="12.6" height="12.6" fill="#fff" stroke="#4b0283" stroke-width="4.2"/>
<rect x="794.9" y="73.6" width="12.6" height="12.6" fill="#fff" stroke="#4b0283" stroke-width="4.2"/>
<rect x="802.1" y="50.7" width="12.6" height="12.6" fill="#fff" stroke="#4b0283" stroke-width="4.2"/>
<rect x="817.2" y="45.9" width="12.6" height="12.6" fill="#fff" stroke="#4b0283" stroke-width="4.2"/>
<rect x="823.8" y="104.3" width="12.6" height="12.6" fill="#fff" stroke="#4b0283" stroke-width="4.2"/>
<rect x="831" y="109.7" width="12.6" height="12.6" fill="#fff" stroke="#4b0283" stroke-width="4.2"/>
<rect x="837.6" y="162.7" width="12.6" height="12.6" fill="#fff" stroke="#4b0283" stroke-width="4.2"/>
<rect x="845.2" y="181.7" width="12.6" height="12.6" fill="#fff" stroke="#4b0283" stroke-width="4.2"/>
<rect x="852.9" y="178.7" width="12.6" height="12.6" fill="#fff" stroke="#4b0283" stroke-width="4.2"/>
<rect x="860" y="163.8" width="12.6" height="12.6" fill="#fff" stroke="#4b0283" stroke-width="4.2"/>
<rect x="867.4" y="101.7" width="12.6" height="12.6" fill="#fff" stroke="#4b0283" stroke-width="4.2"/>
<rect x="874.3" y="59.7" width="12.6" height="12.6" fill="#fff" stroke="#4b0283" stroke-width="4.2"/>
<rect x="879.2" y="46.7" width="12.6" height="12.6" fill="#fff" stroke="#4b0283" stroke-width="4.2"/>
<rect x="895.4" y="53.1" width="12.6" height="12.6" fill="#fff" stroke="#4b0283" stroke-width="4.2"/>
<rect x="903" y="94.7" width="12.6" height="12.6" fill="#fff" stroke="#4b0283" stroke-width="4.2"/>
<rect x="909.8" y="154.8" width="12.6" height="12.6" fill="#fff" stroke="#4b0283" stroke-width="4.2"/>
<rect x="917" y="181.9" width="12.6" height="12.6" fill="#fff" stroke="#4b0283" stroke-width="4.2"/>
<rect x="924.2" y="177.1" width="12.6" height="12.6" fill="#fff" stroke="#4b0283" stroke-width="4.2"/>
<rect x="931.5" y="166.3" width="12.6" height="12.6" fill="#fff" stroke="#4b0283" stroke-width="4.2"/>
<rect x="938.7" y="136.8" width="12.6" height="12.6" fill="#fff" stroke="#4b0283" stroke-width="4.2"/>
<rect x="944.7" y="55.5" width="12.6" height="12.6" fill="#fff" stroke="#4b0283" stroke-width="4.2"/>
<rect x="953.1" y="64.6" width="12.6" height="12.6" fill="#fff" stroke="#4b0283" stroke-width="4.2"/>
<rect x="953.7" y="45.7" width="12.6" height="12.6" fill="#fff" stroke="#4b0283" stroke-width="4.2"/>
<rect x="967.6" y="53.1" width="12.6" height="12.6" fill="#fff" stroke="#4b0283" stroke-width="4.2"/>
</g>
<rect x="728.97" y="48.6" width="266.76" height="145" fill="none" stroke="#000" stroke-width="2.74" stroke-linejoin="miter"/>
<line x1="751.2" y1="193.6" x2="751.2" y2="205.8" stroke="#000" stroke-width="2.74"/>
<text x="730.56" y="246" font-size="35.4" fill="#000" textLength="41" lengthAdjust="spacingAndGlyphs"><tspan>80</tspan></text>
<line x1="862.35" y1="193.6" x2="862.35" y2="205.8" stroke="#000" stroke-width="2.74"/>
<text x="842.06" y="246" font-size="35.4" fill="#000" textLength="40.47" lengthAdjust="spacingAndGlyphs"><tspan>85</tspan></text>
<line x1="973.5" y1="193.6" x2="973.5" y2="205.8" stroke="#000" stroke-width="2.74"/>
<text x="952.86" y="246" font-size="35.4" fill="#000" textLength="41" lengthAdjust="spacingAndGlyphs"><tspan>90</tspan></text>
<line x1="728.97" y1="192.6" x2="716.77" y2="192.6" stroke="#000" stroke-width="2.74"/>
<line x1="728.97" y1="121.2" x2="716.77" y2="121.2" stroke="#000" stroke-width="2.74"/>
<line x1="728.97" y1="49.8" x2="716.77" y2="49.8" stroke="#000" stroke-width="2.74"/>
<text x="380.8" y="41.7" font-size="45" fill="#000" textLength="13.1" lengthAdjust="spacingAndGlyphs"><tspan style="font-weight:bold">i</tspan></text>
<text x="657.7" y="41.7" font-size="45" fill="#000" textLength="26.19" lengthAdjust="spacingAndGlyphs"><tspan style="font-weight:bold">ii</tspan></text>
<text x="948.14" y="41.7" font-size="45" fill="#000" textLength="37.65" lengthAdjust="spacingAndGlyphs"><tspan style="font-weight:bold">iii</tspan></text>
<text x="110.34" y="25.1" font-size="46" fill="#000" textLength="23.39" lengthAdjust="spacingAndGlyphs"><tspan style="font-weight:bold">a</tspan></text>
<text x="354.8" y="287.7" font-size="35.4" fill="#000" textLength="133.01" lengthAdjust="spacingAndGlyphs"><tspan>Ramsey</tspan></text>
<text x="499.6" y="287.7" font-size="35.4" fill="#000" textLength="72.83" lengthAdjust="spacingAndGlyphs"><tspan>hold</tspan></text>
<text x="583.7" y="287.7" font-size="35.4" fill="#000" textLength="75.16" lengthAdjust="spacingAndGlyphs"><tspan>time</tspan></text>
<text x="667.35" y="287.7" font-size="35.4" fill="#000" textLength="21.62" lengthAdjust="spacingAndGlyphs"><tspan style="font-style:italic">T</tspan></text>
<text x="700.01" y="287.7" font-size="35.4" fill="#000" textLength="76.45" lengthAdjust="spacingAndGlyphs"><tspan>(ms)</tspan></text>
<g transform="translate(25.3,138.1) rotate(-90)">
<text x="-0.98" y="0" font-size="35.4" fill="#000" textLength="34.4" lengthAdjust="spacingAndGlyphs"><tspan style="font-style:italic">P</tspan><tspan dy="5.31" style="font-size:24.78px">0</tspan></text>
</g>
<rect x="220.3" y="599.3" width="12.5" height="152.5" fill="#cbcbcb"/>
<rect x="436.8" y="591" width="12.5" height="160.8" fill="#cbcbcb"/>
<rect x="653.3" y="500.1" width="12.6" height="251.7" fill="#cbcbcb"/>
<g clip-path="url(#cb)">
<path d="M151.3 616.58 L997.61 580.67" fill="none" stroke="#3c049b" stroke-width="4.3" stroke-dasharray="15.9 6.9" stroke-linejoin="round"/>
<path d="M151.3 630.49 L997.61 556.67" fill="none" stroke="#6400a7" stroke-width="4.3" stroke-dasharray="15.9 6.9" stroke-linejoin="round"/>
<path d="M151.3 636.76 L997.61 544.17" fill="none" stroke="#7701a8" stroke-width="4.3" stroke-dasharray="15.9 6.9" stroke-linejoin="round"/>
<path d="M151.3 654.43 L997.61 513.17" fill="none" stroke="#a11b9b" stroke-width="4.3" stroke-dasharray="15.9 6.9" stroke-linejoin="round"/>
<path d="M151.3 685.4 L997.61 457.18" fill="none" stroke="#da5a6a" stroke-width="4.3" stroke-dasharray="15.9 6.9" stroke-linejoin="round"/>
<path d="M151.3 711.23 L997.61 405.69" fill="none" stroke="#f89540" stroke-width="4.3" stroke-dasharray="15.9 6.9" stroke-linejoin="round"/>
<path d="M151.3 740.31 L997.61 355.94" fill="none" stroke="#f8e125" stroke-width="4.3" stroke-dasharray="15.9 6.9" stroke-linejoin="round"/>
<circle cx="266.01" cy="610.14" r="6.5" fill="#5410c7" stroke="#270364" stroke-width="4.2"/>
<circle cx="266.01" cy="632.56" r="6.5" fill="#c82cc1" stroke="#71136d" stroke-width="4.2"/>
<circle cx="266.01" cy="650.24" r="6.5" fill="#e08c97" stroke="#ce2e42" stroke-width="4.2"/>
<circle cx="266.01" cy="677.39" r="6.5" fill="#f2e263" stroke="#dec607" stroke-width="4.2"/>
<circle cx="266.01" cy="664.19" r="6.5" fill="#f3b47d" stroke="#f6770a" stroke-width="4.2"/>
<circle cx="266.01" cy="622.59" r="6.5" fill="#9a0cd5" stroke="#4f0170" stroke-width="4.2"/>
<circle cx="366.89" cy="604.09" r="6.5" fill="#5410c7" stroke="#270364" stroke-width="4.2"/>
<circle cx="366.89" cy="620.1" r="6.5" fill="#e08c97" stroke="#ce2e42" stroke-width="4.2"/>
<circle cx="366.89" cy="632.31" r="6.5" fill="#f2e263" stroke="#dec607" stroke-width="4.2"/>
<circle cx="366.89" cy="627.08" r="6.5" fill="#f3b47d" stroke="#f6770a" stroke-width="4.2"/>
<circle cx="366.89" cy="611.39" r="6.5" fill="#9a0cd5" stroke="#4f0170" stroke-width="4.2"/>
<circle cx="483.2" cy="602.92" r="6.5" fill="#5410c7" stroke="#270364" stroke-width="4.2"/>
<circle cx="483.2" cy="598.68" r="6.5" fill="#c82cc1" stroke="#71136d" stroke-width="4.2"/>
<circle cx="483.2" cy="595.2" r="6.5" fill="#e08c97" stroke="#ce2e42" stroke-width="4.2"/>
<circle cx="483.2" cy="585.98" r="6.5" fill="#f2e263" stroke="#dec607" stroke-width="4.2"/>
<circle cx="483.2" cy="592.21" r="6.5" fill="#f3b47d" stroke="#f6770a" stroke-width="4.2"/>
<circle cx="483.2" cy="601.8" r="6.5" fill="#9a0cd5" stroke="#4f0170" stroke-width="4.2"/>
<circle cx="583.08" cy="597.19" r="6.5" fill="#5410c7" stroke="#270364" stroke-width="4.2"/>
<circle cx="583.08" cy="579.51" r="6.5" fill="#c82cc1" stroke="#71136d" stroke-width="4.2"/>
<circle cx="583.08" cy="566.31" r="6.5" fill="#e08c97" stroke="#ce2e42" stroke-width="4.2"/>
<circle cx="583.08" cy="538.91" r="6.5" fill="#f2e263" stroke="#dec607" stroke-width="4.2"/>
<circle cx="583.08" cy="553.11" r="6.5" fill="#f3b47d" stroke="#f6770a" stroke-width="4.2"/>
<circle cx="583.08" cy="592.71" r="6.5" fill="#830bd4" stroke="#42006f" stroke-width="4.2"/>
<circle cx="583.08" cy="588.47" r="6.5" fill="#9a0cd5" stroke="#4f0170" stroke-width="4.2"/>
<circle cx="698.8" cy="594.95" r="6.5" fill="#5410c7" stroke="#270364" stroke-width="4.2"/>
<circle cx="698.8" cy="565.06" r="6.5" fill="#c82cc1" stroke="#71136d" stroke-width="4.2"/>
<circle cx="698.8" cy="541.15" r="6.5" fill="#e08c97" stroke="#ce2e42" stroke-width="4.2"/>
<circle cx="698.8" cy="494.58" r="6.5" fill="#f2e263" stroke="#dec607" stroke-width="4.2"/>
<circle cx="698.8" cy="517.24" r="6.5" fill="#f3b47d" stroke="#f6770a" stroke-width="4.2"/>
<circle cx="698.8" cy="580.01" r="6.5" fill="#9a0cd5" stroke="#4f0170" stroke-width="4.2"/>
<circle cx="799.67" cy="590.96" r="6.5" fill="#5410c7" stroke="#270364" stroke-width="4.2"/>
<circle cx="799.67" cy="547.13" r="6.5" fill="#c82cc1" stroke="#71136d" stroke-width="4.2"/>
<circle cx="799.67" cy="512.51" r="6.5" fill="#e08c97" stroke="#ce2e42" stroke-width="4.2"/>
<circle cx="799.67" cy="450" r="6.5" fill="#f2e263" stroke="#dec607" stroke-width="4.2"/>
<circle cx="799.67" cy="481.38" r="6.5" fill="#f3b47d" stroke="#f6770a" stroke-width="4.2"/>
<circle cx="799.67" cy="575.02" r="6.5" fill="#830bd4" stroke="#42006f" stroke-width="4.2"/>
<circle cx="799.67" cy="566.31" r="6.5" fill="#9a0cd5" stroke="#4f0170" stroke-width="4.2"/>
<circle cx="875.88" cy="586.98" r="6.5" fill="#5410c7" stroke="#270364" stroke-width="4.2"/>
<circle cx="875.88" cy="494.58" r="6.5" fill="#e08c97" stroke="#ce2e42" stroke-width="4.2"/>
<circle cx="875.88" cy="419.61" r="6.5" fill="#f2e263" stroke="#dec607" stroke-width="4.2"/>
<circle cx="875.88" cy="568.3" r="6.5" fill="#9a0cd5" stroke="#4f0170" stroke-width="4.2"/>
<circle cx="915.39" cy="583.99" r="6.5" fill="#5410c7" stroke="#270364" stroke-width="4.2"/>
<circle cx="915.39" cy="530.44" r="6.5" fill="#c82cc1" stroke="#71136d" stroke-width="4.2"/>
<circle cx="915.39" cy="484.12" r="6.5" fill="#e08c97" stroke="#ce2e42" stroke-width="4.2"/>
<circle cx="915.39" cy="400.43" r="6.5" fill="#f2e263" stroke="#dec607" stroke-width="4.2"/>
<circle cx="915.39" cy="443.52" r="6.5" fill="#f3b47d" stroke="#f6770a" stroke-width="4.2"/>
<circle cx="915.39" cy="565.06" r="6.5" fill="#830bd4" stroke="#42006f" stroke-width="4.2"/>
<circle cx="915.39" cy="555.1" r="6.5" fill="#9a0cd5" stroke="#4f0170" stroke-width="4.2"/>
</g>
<path d="M226.4 601.69L235.6 610.89L226.4 620.09L217.2 610.89Z" fill="#5410c7" stroke="#270364" stroke-width="4.3" stroke-linejoin="miter"/>
<path d="M226.4 611.65L235.6 620.85L226.4 630.05L217.2 620.85Z" fill="#fff" stroke="#4b0283" stroke-width="4.3" stroke-linejoin="miter"/>
<path d="M226.4 647.52L235.6 656.72L226.4 665.92L217.2 656.72Z" fill="#e08c97" stroke="#ce2e42" stroke-width="4.3" stroke-linejoin="miter"/>
<path d="M226.4 683.88L235.6 693.08L226.4 702.28L217.2 693.08Z" fill="#f2e263" stroke="#dec607" stroke-width="4.3" stroke-linejoin="miter"/>
<path d="M442.9 595.1L451.5 612.3L434.3 612.3Z" fill="#5410c7" stroke="#270364" stroke-width="4.3" stroke-linejoin="miter" stroke-miterlimit="10"/>
<path d="M442.9 598L451.5 615.2L434.3 615.2Z" fill="#f2e263" stroke="#dec607" stroke-width="4.3" stroke-linejoin="miter" stroke-miterlimit="10"/>
<path d="M442.9 597L451.5 614.2L434.3 614.2Z" fill="#e08c97" stroke="#ce2e42" stroke-width="4.3" stroke-linejoin="miter" stroke-miterlimit="10"/>
<path d="M442.9 595.1L451.5 612.3L434.3 612.3Z" fill="#fff" stroke="#4b0283" stroke-width="4.3" stroke-linejoin="miter" stroke-miterlimit="10"/>
<rect x="653.3" y="590.14" width="12.6" height="12.6" fill="#5410c7" stroke="#270364" stroke-width="4.3"/>
<rect x="653.3" y="579.68" width="12.6" height="12.6" fill="#fff" stroke="#4b0283" stroke-width="4.3"/>
<rect x="653.3" y="544.57" width="12.6" height="12.6" fill="#e08c97" stroke="#ce2e42" stroke-width="4.3"/>
<rect x="653.3" y="507.7" width="12.6" height="12.6" fill="#f2e263" stroke="#dec607" stroke-width="4.3"/>
<rect x="153.3" y="342.9" width="842.3" height="398.5" fill="none" stroke="#000" stroke-width="2.74" stroke-linejoin="miter"/>
<line x1="293.69" y1="741.4" x2="293.69" y2="753.6" stroke="#000" stroke-width="2.74"/>
<text x="262.35" y="794.2" font-size="35.4" fill="#000" textLength="62.24" lengthAdjust="spacingAndGlyphs"><tspan>290</tspan></text>
<line x1="494.24" y1="741.4" x2="494.24" y2="753.6" stroke="#000" stroke-width="2.74"/>
<text x="463.28" y="794.2" font-size="35.4" fill="#000" textLength="61.85" lengthAdjust="spacingAndGlyphs"><tspan>300</tspan></text>
<line x1="694.79" y1="741.4" x2="694.79" y2="753.6" stroke="#000" stroke-width="2.74"/>
<text x="663.83" y="794.2" font-size="35.4" fill="#000" textLength="61.85" lengthAdjust="spacingAndGlyphs"><tspan>310</tspan></text>
<line x1="895.34" y1="741.4" x2="895.34" y2="753.6" stroke="#000" stroke-width="2.74"/>
<text x="864.38" y="794.2" font-size="35.4" fill="#000" textLength="61.85" lengthAdjust="spacingAndGlyphs"><tspan>320</tspan></text>
<line x1="153.3" y1="728.94" x2="141.1" y2="728.94" stroke="#000" stroke-width="2.74"/>
<text x="56.59" y="741.51" font-size="35.4" fill="#000" textLength="68.07" lengthAdjust="spacingAndGlyphs"><tspan>−50</tspan></text>
<line x1="153.3" y1="604.41" x2="141.1" y2="604.41" stroke="#000" stroke-width="2.74"/>
<text x="104.98" y="616.98" font-size="35.4" fill="#000" textLength="19.49" lengthAdjust="spacingAndGlyphs"><tspan>0</tspan></text>
<line x1="153.3" y1="479.88" x2="141.1" y2="479.88" stroke="#000" stroke-width="2.74"/>
<text x="84.12" y="492.45" font-size="35.4" fill="#000" textLength="40.44" lengthAdjust="spacingAndGlyphs"><tspan>50</tspan></text>
<line x1="153.3" y1="355.35" x2="141.1" y2="355.35" stroke="#000" stroke-width="2.74"/>
<text x="62.64" y="367.92" font-size="35.4" fill="#000" textLength="61.99" lengthAdjust="spacingAndGlyphs"><tspan>100</tspan></text>
<text x="107.02" y="318.4" font-size="46" fill="#000" textLength="29.88" lengthAdjust="spacingAndGlyphs"><tspan style="font-weight:bold">b</tspan></text>
<text x="264.16" y="835.7" font-size="35.4" fill="#000" textLength="139.76" lengthAdjust="spacingAndGlyphs"><tspan>Tweezer</tspan></text>
<text x="414.84" y="835.7" font-size="35.4" fill="#000" textLength="149.78" lengthAdjust="spacingAndGlyphs"><tspan>detuning</tspan></text>
<text x="576.54" y="835.7" font-size="35.4" fill="#000" textLength="23.65" lengthAdjust="spacingAndGlyphs"><tspan>Δ</tspan></text>
<text x="608.65" y="835.7" font-size="35.4" fill="#000" textLength="20.67" lengthAdjust="spacingAndGlyphs"><tspan>−</tspan></text>
<text x="639.45" y="835.7" font-size="35.4" fill="#000" textLength="61.14" lengthAdjust="spacingAndGlyphs"><tspan>185</tspan></text>
<text x="705.73" y="835.7" font-size="35.4" fill="#000" textLength="70.95" lengthAdjust="spacingAndGlyphs"><tspan>GHz</tspan></text>
<text x="787.46" y="835.7" font-size="35.4" fill="#000" textLength="97.03" lengthAdjust="spacingAndGlyphs"><tspan>(MHz)</tspan></text>
<g transform="translate(28.8,542.85) rotate(-90)">
<text x="-208.81" y="0" font-size="36.2" fill="#000" textLength="418.64" lengthAdjust="spacingAndGlyphs"><tspan style="font-style:italic">f</tspan><tspan> - 980,385,597.3 Hz (Hz)</tspan></text>
</g>
<text x="171.49" y="380.8" font-size="28.6" fill="#000" textLength="71.88" lengthAdjust="spacingAndGlyphs"><tspan style="font-style:italic">β</tspan><tspan> = 0</tspan></text>
<circle cx="249.0" cy="359.5" r="2.6" fill="none" stroke="#000" stroke-width="1.5"/>
<defs><linearGradient id="plas" x1="0" x2="1" y1="0" y2="0">
<stop offset="0" stop-color="#0d0887"/>
<stop offset="0.05" stop-color="#2a0593"/>
<stop offset="0.1" stop-color="#41049d"/>
<stop offset="0.15" stop-color="#5601a4"/>
<stop offset="0.2" stop-color="#6a00a8"/>
<stop offset="0.25" stop-color="#7e03a8"/>
<stop offset="0.3" stop-color="#8f0da4"/>
<stop offset="0.35" stop-color="#a11b9b"/>
<stop offset="0.4" stop-color="#b12a90"/>
<stop offset="0.45" stop-color="#bf3984"/>
<stop offset="0.5" stop-color="#cc4778"/>
<stop offset="0.55" stop-color="#d6556d"/>
<stop offset="0.6" stop-color="#e16462"/>
<stop offset="0.65" stop-color="#ea7457"/>
<stop offset="0.7" stop-color="#f2844b"/>
<stop offset="0.75" stop-color="#f89540"/>
<stop offset="0.8" stop-color="#fca636"/>
<stop offset="0.85" stop-color="#feba2c"/>
<stop offset="0.9" stop-color="#fcce25"/>
<stop offset="0.95" stop-color="#f7e425"/>
<stop offset="1" stop-color="#f0f921"/>
</linearGradient></defs>
<rect x="195.5" y="422.5" width="362.4" height="20.0" fill="url(#plas)" stroke="#000" stroke-width="2.5"/>
<line x1="195.5" y1="442.5" x2="195.5" y2="454.6" stroke="#000" stroke-width="2.74"/>
<text x="186.54" y="489" font-size="30.7" fill="#000" textLength="17.79" lengthAdjust="spacingAndGlyphs"><tspan>0</tspan></text>
<line x1="376.7" y1="442.5" x2="376.7" y2="454.6" stroke="#000" stroke-width="2.74"/>
<text x="357.85" y="489" font-size="30.7" fill="#000" textLength="37.28" lengthAdjust="spacingAndGlyphs"><tspan>20</tspan></text>
<line x1="557.9" y1="442.5" x2="557.9" y2="454.6" stroke="#000" stroke-width="2.74"/>
<text x="539.68" y="489" font-size="30.7" fill="#000" textLength="37.02" lengthAdjust="spacingAndGlyphs"><tspan>40</tspan></text>
<text x="224.98" y="521.9" font-size="30.7" fill="#000" textLength="125.03" lengthAdjust="spacingAndGlyphs"><tspan>Intensity</tspan></text>
<text x="365" y="521.9" font-size="30.7" fill="#000" textLength="8.53" lengthAdjust="spacingAndGlyphs"><tspan style="font-style:italic">I</tspan></text>
<text x="376.53" y="521.9" font-size="30.7" fill="#000" textLength="53.79" lengthAdjust="spacingAndGlyphs"><tspan>(kW</tspan></text>
<text x="436.67" y="521.9" font-size="30.7" fill="#000" textLength="47.67" lengthAdjust="spacingAndGlyphs"><tspan>cm</tspan></text>
<text x="515.67" y="521.9" font-size="30.7" fill="#000" textLength="10.22" lengthAdjust="spacingAndGlyphs"><tspan>)</tspan></text>
<text x="483.3" y="512.27" font-size="21.49" fill="#000" textLength="29.99" lengthAdjust="spacingAndGlyphs"><tspan>−2</tspan></text>
<text x="189.6" y="591.9" font-size="30" fill="#6400a7" textLength="10.72" lengthAdjust="spacingAndGlyphs"><tspan style="font-weight:bold">i</tspan></text>
<text x="459.4" y="636.9" font-size="30" fill="#6400a7" textLength="20.64" lengthAdjust="spacingAndGlyphs"><tspan style="font-weight:bold">ii</tspan></text>
<text x="670.39" y="631.8" font-size="30" fill="#6400a7" textLength="31.06" lengthAdjust="spacingAndGlyphs"><tspan style="font-weight:bold">iii</tspan></text>
<text x="459.56" y="705.1" font-size="30" fill="#000" textLength="21.02" lengthAdjust="spacingAndGlyphs"><tspan>Δ</tspan></text>
<text x="480.58" y="709.7" font-size="21.5" fill="#000" textLength="62.24" lengthAdjust="spacingAndGlyphs"><tspan>magic</tspan></text>
<g clip-path="url(#cb)">
<line x1="465.9" y1="714.5" x2="452.0" y2="738.0" stroke="#808080" stroke-width="3.4"/>
<circle cx="451.5" cy="740.0" r="6.6" fill="#808080"/>
</g>
<rect x="153.3" y="342.9" width="842.3" height="398.5" fill="none" stroke="#000" stroke-width="2.74" stroke-linejoin="miter"/>
<g clip-path="url(#cc1)">
<path d="M153.3 1065.5 L293.54 887.79" fill="none" stroke="#f4f4f4" stroke-width="4.3" stroke-dasharray="15.9 6.9" stroke-linejoin="round"/>
<path d="M153.3 1065.5 L328.6 887.79" fill="none" stroke="#f4f4f4" stroke-width="4.3" stroke-dasharray="15.9 6.9" stroke-linejoin="round"/>
<path d="M153.3 1065.5 L380.16 887.79" fill="none" stroke="#f4f4f4" stroke-width="4.3" stroke-dasharray="15.9 6.9" stroke-linejoin="round"/>
<path d="M153.3 1065.5 L469.42 887.79" fill="none" stroke="#f4f4f4" stroke-width="4.3" stroke-dasharray="15.9 6.9" stroke-linejoin="round"/>
<path d="M153.3 1065.5 L562.77 944.74" fill="none" stroke="#f4f4f4" stroke-width="4.3" stroke-dasharray="15.9 6.9" stroke-linejoin="round"/>
<path d="M153.3 1065.5 L562.77 1036.63" fill="none" stroke="#f4f4f4" stroke-width="4.3" stroke-dasharray="15.9 6.9" stroke-linejoin="round"/>
<path d="M153.3 1065.5 L562.77 1140.97" fill="none" stroke="#f4f4f4" stroke-width="4.3" stroke-dasharray="15.9 6.9" stroke-linejoin="round"/>
<path d="M153.3 1065.5 L562.77 1229.66" fill="none" stroke="#f4f4f4" stroke-width="4.3" stroke-dasharray="15.9 6.9" stroke-linejoin="round"/>
<circle cx="187.49" cy="1023.91" r="6.5" fill="#4f05cd" stroke="#3c049b" stroke-width="3.7" fill-opacity="0.13" stroke-opacity="0.13"/>
<line x1="185.09" y1="1023.91" x2="189.89" y2="1023.91" stroke="#3c049b" stroke-opacity="0.16" stroke-width="1.4"/>
<circle cx="187.49" cy="1031.79" r="6.5" fill="#4f05cd" stroke="#3c049b" stroke-width="3.7" fill-opacity="0.13" stroke-opacity="0.13"/>
<line x1="185.09" y1="1031.79" x2="189.89" y2="1031.79" stroke="#3c049b" stroke-opacity="0.16" stroke-width="1.4"/>
<circle cx="187.49" cy="1039.82" r="6.5" fill="#4f05cd" stroke="#3c049b" stroke-width="3.7" fill-opacity="0.13" stroke-opacity="0.13"/>
<line x1="185.09" y1="1039.82" x2="189.89" y2="1039.82" stroke="#3c049b" stroke-opacity="0.16" stroke-width="1.4"/>
<circle cx="187.49" cy="1047.7" r="6.5" fill="#4f05cd" stroke="#3c049b" stroke-width="3.7" fill-opacity="0.13" stroke-opacity="0.13"/>
<line x1="185.09" y1="1047.7" x2="189.89" y2="1047.7" stroke="#3c049b" stroke-opacity="0.16" stroke-width="1.4"/>
<circle cx="187.49" cy="1054.79" r="6.5" fill="#4f05cd" stroke="#3c049b" stroke-width="3.7" fill-opacity="0.13" stroke-opacity="0.13"/>
<line x1="185.09" y1="1054.79" x2="189.89" y2="1054.79" stroke="#3c049b" stroke-opacity="0.16" stroke-width="1.4"/>
<circle cx="187.49" cy="1062.9" r="6.5" fill="#4f05cd" stroke="#3c049b" stroke-width="3.7" fill-opacity="0.13" stroke-opacity="0.13"/>
<line x1="185.09" y1="1062.9" x2="189.89" y2="1062.9" stroke="#3c049b" stroke-opacity="0.16" stroke-width="1.4"/>
<circle cx="187.49" cy="1070.04" r="6.5" fill="#4f05cd" stroke="#3c049b" stroke-width="3.7" fill-opacity="0.13" stroke-opacity="0.13"/>
<line x1="185.09" y1="1070.04" x2="189.89" y2="1070.04" stroke="#3c049b" stroke-opacity="0.16" stroke-width="1.4"/>
<circle cx="187.49" cy="1077.79" r="6.5" fill="#4f05cd" stroke="#3c049b" stroke-width="3.7" fill-opacity="0.13" stroke-opacity="0.13"/>
<line x1="185.09" y1="1077.79" x2="189.89" y2="1077.79" stroke="#3c049b" stroke-opacity="0.16" stroke-width="1.4"/>
<circle cx="223.77" cy="979.78" r="6.5" fill="#8300da" stroke="#6400a7" stroke-width="3.7" fill-opacity="0.13" stroke-opacity="0.13"/>
<line x1="221.37" y1="979.78" x2="226.17" y2="979.78" stroke="#6400a7" stroke-opacity="0.16" stroke-width="1.4"/>
<circle cx="223.77" cy="996.01" r="6.5" fill="#8300da" stroke="#6400a7" stroke-width="3.7" fill-opacity="0.13" stroke-opacity="0.13"/>
<line x1="221.37" y1="996.01" x2="226.17" y2="996.01" stroke="#6400a7" stroke-opacity="0.16" stroke-width="1.4"/>
<circle cx="223.77" cy="1012.57" r="6.5" fill="#8300da" stroke="#6400a7" stroke-width="3.7" fill-opacity="0.13" stroke-opacity="0.13"/>
<line x1="221.37" y1="1012.57" x2="226.17" y2="1012.57" stroke="#6400a7" stroke-opacity="0.16" stroke-width="1.4"/>
<circle cx="223.77" cy="1028.81" r="6.5" fill="#8300da" stroke="#6400a7" stroke-width="3.7" fill-opacity="0.13" stroke-opacity="0.13"/>
<line x1="221.37" y1="1028.81" x2="226.17" y2="1028.81" stroke="#6400a7" stroke-opacity="0.16" stroke-width="1.4"/>
<circle cx="223.77" cy="1043.42" r="6.5" fill="#8300da" stroke="#6400a7" stroke-width="3.7" fill-opacity="0.13" stroke-opacity="0.13"/>
<line x1="221.37" y1="1043.42" x2="226.17" y2="1043.42" stroke="#6400a7" stroke-opacity="0.16" stroke-width="1.4"/>
<circle cx="223.77" cy="1060.14" r="6.5" fill="#8300da" stroke="#6400a7" stroke-width="3.7" fill-opacity="0.13" stroke-opacity="0.13"/>
<line x1="221.37" y1="1060.14" x2="226.17" y2="1060.14" stroke="#6400a7" stroke-opacity="0.16" stroke-width="1.4"/>
<circle cx="223.77" cy="1074.85" r="6.5" fill="#8300da" stroke="#6400a7" stroke-width="3.7" fill-opacity="0.13" stroke-opacity="0.13"/>
<line x1="221.37" y1="1074.85" x2="226.17" y2="1074.85" stroke="#6400a7" stroke-opacity="0.16" stroke-width="1.4"/>
<circle cx="223.77" cy="1090.83" r="6.5" fill="#8300da" stroke="#6400a7" stroke-width="3.7" fill-opacity="0.13" stroke-opacity="0.13"/>
<line x1="221.37" y1="1090.83" x2="226.17" y2="1090.83" stroke="#6400a7" stroke-opacity="0.16" stroke-width="1.4"/>
<circle cx="241.57" cy="958.11" r="6.5" fill="#9b01db" stroke="#7701a8" stroke-width="3.7" fill-opacity="0.13" stroke-opacity="0.13"/>
<line x1="239.17" y1="958.11" x2="243.97" y2="958.11" stroke="#7701a8" stroke-opacity="0.16" stroke-width="1.4"/>
<circle cx="241.57" cy="978.45" r="6.5" fill="#9b01db" stroke="#7701a8" stroke-width="3.7" fill-opacity="0.13" stroke-opacity="0.13"/>
<line x1="239.17" y1="978.45" x2="243.97" y2="978.45" stroke="#7701a8" stroke-opacity="0.16" stroke-width="1.4"/>
<circle cx="241.57" cy="999.2" r="6.5" fill="#9b01db" stroke="#7701a8" stroke-width="3.7" fill-opacity="0.13" stroke-opacity="0.13"/>
<line x1="239.17" y1="999.2" x2="243.97" y2="999.2" stroke="#7701a8" stroke-opacity="0.16" stroke-width="1.4"/>
<circle cx="241.57" cy="1019.54" r="6.5" fill="#9b01db" stroke="#7701a8" stroke-width="3.7" fill-opacity="0.13" stroke-opacity="0.13"/>
<line x1="239.17" y1="1019.54" x2="243.97" y2="1019.54" stroke="#7701a8" stroke-opacity="0.16" stroke-width="1.4"/>
<circle cx="241.57" cy="1037.84" r="6.5" fill="#9b01db" stroke="#7701a8" stroke-width="3.7" fill-opacity="0.13" stroke-opacity="0.13"/>
<line x1="239.17" y1="1037.84" x2="243.97" y2="1037.84" stroke="#7701a8" stroke-opacity="0.16" stroke-width="1.4"/>
<circle cx="241.57" cy="1058.79" r="6.5" fill="#9b01db" stroke="#7701a8" stroke-width="3.7" fill-opacity="0.13" stroke-opacity="0.13"/>
<line x1="239.17" y1="1058.79" x2="243.97" y2="1058.79" stroke="#7701a8" stroke-opacity="0.16" stroke-width="1.4"/>
<circle cx="241.57" cy="1077.21" r="6.5" fill="#9b01db" stroke="#7701a8" stroke-width="3.7" fill-opacity="0.13" stroke-opacity="0.13"/>
<line x1="239.17" y1="1077.21" x2="243.97" y2="1077.21" stroke="#7701a8" stroke-opacity="0.16" stroke-width="1.4"/>
<circle cx="241.57" cy="1097.23" r="6.5" fill="#9b01db" stroke="#7701a8" stroke-width="3.7" fill-opacity="0.13" stroke-opacity="0.13"/>
<line x1="239.17" y1="1097.23" x2="243.97" y2="1097.23" stroke="#7701a8" stroke-opacity="0.16" stroke-width="1.4"/>
<circle cx="286.62" cy="903.32" r="6.5" fill="#cd22c5" stroke="#a11b9b" stroke-width="3.7" fill-opacity="0.13" stroke-opacity="0.13"/>
<line x1="284.22" y1="903.32" x2="289.01" y2="903.32" stroke="#a11b9b" stroke-opacity="0.16" stroke-width="1.4"/>
<circle cx="286.62" cy="934.04" r="6.5" fill="#cd22c5" stroke="#a11b9b" stroke-width="3.7" fill-opacity="0.13" stroke-opacity="0.13"/>
<line x1="284.22" y1="934.04" x2="289.01" y2="934.04" stroke="#a11b9b" stroke-opacity="0.16" stroke-width="1.4"/>
<circle cx="286.62" cy="965.37" r="6.5" fill="#cd22c5" stroke="#a11b9b" stroke-width="3.7" fill-opacity="0.13" stroke-opacity="0.13"/>
<line x1="284.22" y1="965.37" x2="289.01" y2="965.37" stroke="#a11b9b" stroke-opacity="0.16" stroke-width="1.4"/>
<circle cx="286.62" cy="996.08" r="6.5" fill="#cd22c5" stroke="#a11b9b" stroke-width="3.7" fill-opacity="0.13" stroke-opacity="0.13"/>
<line x1="284.22" y1="996.08" x2="289.01" y2="996.08" stroke="#a11b9b" stroke-opacity="0.16" stroke-width="1.4"/>
<circle cx="286.62" cy="1023.73" r="6.5" fill="#cd22c5" stroke="#a11b9b" stroke-width="3.7" fill-opacity="0.13" stroke-opacity="0.13"/>
<line x1="284.22" y1="1023.73" x2="289.01" y2="1023.73" stroke="#a11b9b" stroke-opacity="0.16" stroke-width="1.4"/>
<circle cx="286.62" cy="1055.36" r="6.5" fill="#cd22c5" stroke="#a11b9b" stroke-width="3.7" fill-opacity="0.13" stroke-opacity="0.13"/>
<line x1="284.22" y1="1055.36" x2="289.01" y2="1055.36" stroke="#a11b9b" stroke-opacity="0.16" stroke-width="1.4"/>
<circle cx="286.62" cy="1083.19" r="6.5" fill="#cd22c5" stroke="#a11b9b" stroke-width="3.7" fill-opacity="0.13" stroke-opacity="0.13"/>
<line x1="284.22" y1="1083.19" x2="289.01" y2="1083.19" stroke="#a11b9b" stroke-opacity="0.16" stroke-width="1.4"/>
<circle cx="286.62" cy="1113.42" r="6.5" fill="#cd22c5" stroke="#a11b9b" stroke-width="3.7" fill-opacity="0.13" stroke-opacity="0.13"/>
<line x1="284.22" y1="1113.42" x2="289.01" y2="1113.42" stroke="#a11b9b" stroke-opacity="0.16" stroke-width="1.4"/>
<circle cx="368.51" cy="903.85" r="6.5" fill="#e38490" stroke="#da5a6a" stroke-width="3.7" fill-opacity="0.13" stroke-opacity="0.13"/>
<line x1="366.11" y1="903.85" x2="370.91" y2="903.85" stroke="#da5a6a" stroke-opacity="0.16" stroke-width="1.4"/>
<circle cx="368.51" cy="953.44" r="6.5" fill="#e38490" stroke="#da5a6a" stroke-width="3.7" fill-opacity="0.13" stroke-opacity="0.13"/>
<line x1="366.11" y1="953.44" x2="370.91" y2="953.44" stroke="#da5a6a" stroke-opacity="0.16" stroke-width="1.4"/>
<circle cx="368.51" cy="998.07" r="6.5" fill="#e38490" stroke="#da5a6a" stroke-width="3.7" fill-opacity="0.13" stroke-opacity="0.13"/>
<line x1="366.11" y1="998.07" x2="370.91" y2="998.07" stroke="#da5a6a" stroke-opacity="0.16" stroke-width="1.4"/>
<circle cx="368.51" cy="1049.14" r="6.5" fill="#e38490" stroke="#da5a6a" stroke-width="3.7" fill-opacity="0.13" stroke-opacity="0.13"/>
<line x1="366.11" y1="1049.14" x2="370.91" y2="1049.14" stroke="#da5a6a" stroke-opacity="0.16" stroke-width="1.4"/>
<circle cx="368.51" cy="1094.06" r="6.5" fill="#e38490" stroke="#da5a6a" stroke-width="3.7" fill-opacity="0.13" stroke-opacity="0.13"/>
<line x1="366.11" y1="1094.06" x2="370.91" y2="1094.06" stroke="#da5a6a" stroke-opacity="0.16" stroke-width="1.4"/>
<circle cx="368.51" cy="1142.85" r="6.5" fill="#e38490" stroke="#da5a6a" stroke-width="3.7" fill-opacity="0.13" stroke-opacity="0.13"/>
<line x1="366.11" y1="1142.85" x2="370.91" y2="1142.85" stroke="#da5a6a" stroke-opacity="0.16" stroke-width="1.4"/>
<circle cx="438.98" cy="916.75" r="6.5" fill="#fab071" stroke="#f89540" stroke-width="3.7" fill-opacity="0.13" stroke-opacity="0.13"/>
<line x1="436.58" y1="916.75" x2="441.38" y2="916.75" stroke="#f89540" stroke-opacity="0.16" stroke-width="1.4"/>
<circle cx="438.98" cy="975.98" r="6.5" fill="#fab071" stroke="#f89540" stroke-width="3.7" fill-opacity="0.13" stroke-opacity="0.13"/>
<line x1="436.58" y1="975.98" x2="441.38" y2="975.98" stroke="#f89540" stroke-opacity="0.16" stroke-width="1.4"/>
<circle cx="438.98" cy="1043.78" r="6.5" fill="#fab071" stroke="#f89540" stroke-width="3.7" fill-opacity="0.13" stroke-opacity="0.13"/>
<line x1="436.58" y1="1043.78" x2="441.38" y2="1043.78" stroke="#f89540" stroke-opacity="0.16" stroke-width="1.4"/>
<circle cx="438.98" cy="1103.41" r="6.5" fill="#fab071" stroke="#f89540" stroke-width="3.7" fill-opacity="0.13" stroke-opacity="0.13"/>
<line x1="436.58" y1="1103.41" x2="441.38" y2="1103.41" stroke="#f89540" stroke-opacity="0.16" stroke-width="1.4"/>
<circle cx="438.98" cy="1168.18" r="6.5" fill="#fab071" stroke="#f89540" stroke-width="3.7" fill-opacity="0.13" stroke-opacity="0.13"/>
<line x1="436.58" y1="1168.18" x2="441.38" y2="1168.18" stroke="#f89540" stroke-opacity="0.16" stroke-width="1.4"/>
<circle cx="512.77" cy="952.86" r="6.5" fill="#fae856" stroke="#f8e125" stroke-width="3.7" fill-opacity="0.13" stroke-opacity="0.13"/>
<line x1="510.37" y1="952.86" x2="515.17" y2="952.86" stroke="#f8e125" stroke-opacity="0.16" stroke-width="1.4"/>
<circle cx="512.77" cy="1038.17" r="6.5" fill="#fae856" stroke="#f8e125" stroke-width="3.7" fill-opacity="0.13" stroke-opacity="0.13"/>
<line x1="510.37" y1="1038.17" x2="515.17" y2="1038.17" stroke="#f8e125" stroke-opacity="0.16" stroke-width="1.4"/>
<circle cx="512.77" cy="1113.21" r="6.5" fill="#fae856" stroke="#f8e125" stroke-width="3.7" fill-opacity="0.13" stroke-opacity="0.13"/>
<line x1="510.37" y1="1113.21" x2="515.17" y2="1113.21" stroke="#f8e125" stroke-opacity="0.16" stroke-width="1.4"/>
<circle cx="512.77" cy="1194.7" r="6.5" fill="#fae856" stroke="#f8e125" stroke-width="3.7" fill-opacity="0.13" stroke-opacity="0.13"/>
<line x1="510.37" y1="1194.7" x2="515.17" y2="1194.7" stroke="#f8e125" stroke-opacity="0.16" stroke-width="1.4"/>
<path d="M153.3 1065.5 L538.96 887.79" fill="none" stroke="#808080" stroke-width="4.6" stroke-dasharray="17 6.6" stroke-linejoin="round"/>
<path d="M153.3 1065.5 L562.77 1073.99" fill="none" stroke="#808080" stroke-width="4.6" stroke-dasharray="17 6.6" stroke-linejoin="round"/>
<path d="M153.3 1065.5 L512.05 1243.21" fill="none" stroke="#808080" stroke-width="4.6" stroke-dasharray="17 6.6" stroke-linejoin="round"/>
</g>
<path d="M187.49 1069.19L196.09 1077.79L187.49 1086.39L178.89 1077.79Z" fill="#5410c7" stroke="#270364" stroke-width="4.3" stroke-linejoin="miter"/>
<path d="M187.49 1059.26L195.49 1075.26L179.49 1075.26Z" fill="#5410c7" stroke="#270364" stroke-width="4.3" stroke-linejoin="miter" stroke-miterlimit="10"/>
<rect x="181.19" y="1044.98" width="12.6" height="12.6" fill="#5410c7" stroke="#270364" stroke-width="4.3"/>
<path d="M223.77 1085.86L232.37 1094.46L223.77 1103.06L215.17 1094.46Z" fill="#fff" stroke="#4b0283" stroke-width="4.3" stroke-linejoin="miter"/>
<path d="M223.77 1058.16L231.77 1074.16L215.77 1074.16Z" fill="#fff" stroke="#4b0283" stroke-width="4.3" stroke-linejoin="miter" stroke-miterlimit="10"/>
<rect x="217.47" y="1027.39" width="12.6" height="12.6" fill="#fff" stroke="#4b0283" stroke-width="4.3"/>
<path d="M368.51 1149.05L377.11 1157.65L368.51 1166.25L359.91 1157.65Z" fill="#e08c97" stroke="#ce2e42" stroke-width="4.3" stroke-linejoin="miter"/>
<path d="M368.51 1061.58L376.51 1077.58L360.51 1077.58Z" fill="#e08c97" stroke="#ce2e42" stroke-width="4.3" stroke-linejoin="miter" stroke-miterlimit="10"/>
<rect x="362.21" y="964.99" width="12.6" height="12.6" fill="#e08c97" stroke="#ce2e42" stroke-width="4.3"/>
<path d="M512.77 1212.67L521.37 1221.27L512.77 1229.87L504.17 1221.27Z" fill="#f2e263" stroke="#dec607" stroke-width="4.3" stroke-linejoin="miter"/>
<path d="M512.77 1063.86L520.77 1079.86L504.77 1079.86Z" fill="#f2e263" stroke="#dec607" stroke-width="4.3" stroke-linejoin="miter" stroke-miterlimit="10"/>
<rect x="506.47" y="901.23" width="12.6" height="12.6" fill="#f2e263" stroke="#dec607" stroke-width="4.3"/>
<text x="-56.81" y="0" font-size="25.5" fill="#4a4a4a" textLength="113.6" lengthAdjust="spacingAndGlyphs" transform="translate(333.6,970.3) rotate(-22.5)"><tspan>+10 MHz</tspan></text>
<text x="388.57" y="1058.9" font-size="25.5" fill="#4a4a4a" textLength="99.1" lengthAdjust="spacingAndGlyphs"><tspan>+0 MHz</tspan></text>
<text x="-57.09" y="0" font-size="25.5" fill="#4a4a4a" textLength="114.19" lengthAdjust="spacingAndGlyphs" transform="translate(324.9,1185.6) rotate(25)"><tspan>−11 MHz</tspan></text>
<g clip-path="url(#cc2)">
<path d="M593.7 1065.5 L595.72 1064.7 L597.75 1063.89 L599.77 1063.08 L601.79 1062.26 L603.82 1061.43 L605.84 1060.6 L607.86 1059.76 L609.89 1058.91 L611.91 1058.05 L613.94 1057.19 L615.96 1056.32 L617.98 1055.44 L620.01 1054.56 L622.03 1053.67 L624.05 1052.77 L626.08 1051.86 L628.1 1050.95 L630.12 1050.03 L632.15 1049.1 L634.17 1048.17 L636.19 1047.22 L638.22 1046.28 L640.24 1045.32 L642.26 1044.36 L644.29 1043.39 L646.31 1042.41 L648.34 1041.42 L650.36 1040.43 L652.38 1039.43 L654.41 1038.43 L656.43 1037.42 L658.45 1036.4 L660.48 1035.37 L662.5 1034.33 L664.52 1033.29 L666.55 1032.24 L668.57 1031.19 L670.59 1030.13 L672.62 1029.06 L674.64 1027.98 L676.66 1026.89 L678.69 1025.8 L680.71 1024.7 L682.74 1023.6 L684.76 1022.49 L686.78 1021.37 L688.81 1020.24 L690.83 1019.1 L692.85 1017.96 L694.88 1016.81 L696.9 1015.66 L698.92 1014.5 L700.95 1013.33 L702.97 1012.15 L704.99 1010.97 L707.02 1009.77 L709.04 1008.58 L711.06 1007.37 L713.09 1006.16 L715.11 1004.94 L717.14 1003.71 L719.16 1002.48 L721.18 1001.24 L723.21 999.99 L725.23 998.73 L727.25 997.47 L729.28 996.2 L731.3 994.92 L733.32 993.64 L735.35 992.35 L737.37 991.05 L739.39 989.74 L741.42 988.43 L743.44 987.11 L745.46 985.78 L747.49 984.45 L749.51 983.11 L751.54 981.76 L753.56 980.41 L755.58 979.04 L757.61 977.67 L759.63 976.3 L761.65 974.91 L763.68 973.52 L765.7 972.12 L767.72 970.72 L769.75 969.31 L771.77 967.89 L773.79 966.46 L775.82 965.03 L777.84 963.59 L779.86 962.14 L781.89 960.68 L783.91 959.22 L785.94 957.75 L787.96 956.27 L789.98 954.79 L792.01 953.3 L794.03 951.8 L796.05 950.3 L798.08 948.78 L800.1 947.26 L802.12 945.74 L804.15 944.2 L806.17 942.66 L808.19 941.12 L810.22 939.56 L812.24 938 L814.26 936.43 L816.29 934.85 L818.31 933.27 L820.34 931.68 L822.36 930.08 L824.38 928.47 L826.41 926.86 L828.43 925.24 L830.45 923.62 L832.48 921.98 L834.5 920.34 L836.52 918.7 L838.55 917.04 L840.57 915.38 L842.59 913.71 L844.62 912.03 L846.64 910.35 L848.66 908.66 L850.69 906.96 L852.71 905.26 L854.74 903.54 L856.76 901.82 L858.78 900.1 L860.81 898.37 L862.83 896.62 L864.85 894.88 L866.88 893.12 L868.9 891.36 L870.92 889.59 L872.95 887.81 L874.97 886.03 L876.99 884.24 L879.02 882.44 L881.04 880.64 L883.06 878.83 L885.09 877.01 L887.11 875.18 L889.14 873.35 L891.16 871.51 L893.18 869.66 L895.21 867.81 L897.23 865.94 L899.25 864.08 L901.28 862.2 L903.3 860.32 L905.32 858.43 L907.35 856.53 L909.37 854.62 L911.39 852.71 L913.42 850.79 L915.44 848.87 L917.47 846.93 L919.49 844.99 L921.51 843.05 L923.54 841.09 L925.56 839.13 L927.58 837.16 L929.61 835.19 L931.63 833.2 L933.65 831.21 L935.68 829.21 L937.7 827.21 L939.72 825.2 L941.75 823.18 L943.77 821.15 L945.79 819.12 L947.82 817.08 L949.84 815.03 L951.87 812.98 L953.89 810.92 L955.91 808.85 L957.94 806.77 L959.96 804.69 L961.98 802.6 L964.01 800.5 L966.03 798.4 L968.05 796.29 L970.08 794.17 L972.1 792.04 L974.12 789.91 L976.15 787.77 L978.17 785.62 L980.19 783.47 L982.22 781.31 L984.24 779.14 L986.27 776.96 L988.29 774.78 L990.31 772.59 L992.34 770.39 L994.36 768.19 L996.38 765.98 L998.41 763.76" fill="none" stroke="#f3f3f3" stroke-width="4.6" stroke-dasharray="4.8 6" stroke-linejoin="round"/>
<path d="M593.7 1065.5 L595.72 1067.57 L597.75 1069.63 L599.77 1071.69 L601.79 1073.74 L603.82 1075.79 L605.84 1077.83 L607.86 1079.86 L609.89 1081.89 L611.91 1083.91 L613.94 1085.92 L615.96 1087.93 L617.98 1089.93 L620.01 1091.92 L622.03 1093.91 L624.05 1095.89 L626.08 1097.86 L628.1 1099.83 L630.12 1101.79 L632.15 1103.75 L634.17 1105.7 L636.19 1107.64 L638.22 1109.58 L640.24 1111.51 L642.26 1113.43 L644.29 1115.35 L646.31 1117.26 L648.34 1119.17 L650.36 1121.06 L652.38 1122.96 L654.41 1124.84 L656.43 1126.72 L658.45 1128.59 L660.48 1130.46 L662.5 1132.32 L664.52 1134.17 L666.55 1136.02 L668.57 1137.86 L670.59 1139.7 L672.62 1141.52 L674.64 1143.35 L676.66 1145.16 L678.69 1146.97 L680.71 1148.77 L682.74 1150.57 L684.76 1152.36 L686.78 1154.14 L688.81 1155.92 L690.83 1157.69 L692.85 1159.46 L694.88 1161.21 L696.9 1162.96 L698.92 1164.71 L700.95 1166.45 L702.97 1168.18 L704.99 1169.91 L707.02 1171.63 L709.04 1173.34 L711.06 1175.05 L713.09 1176.75 L715.11 1178.44 L717.14 1180.13 L719.16 1181.81 L721.18 1183.49 L723.21 1185.15 L725.23 1186.82 L727.25 1188.47 L729.28 1190.12 L731.3 1191.77 L733.32 1193.4 L735.35 1195.03 L737.37 1196.66 L739.39 1198.27 L741.42 1199.88 L743.44 1201.49 L745.46 1203.09 L747.49 1204.68 L749.51 1206.27 L751.54 1207.85 L753.56 1209.42 L755.58 1210.98 L757.61 1212.54 L759.63 1214.1 L761.65 1215.65 L763.68 1217.19 L765.7 1218.72 L767.72 1220.25 L769.75 1221.77 L771.77 1223.29 L773.79 1224.8 L775.82 1226.3 L777.84 1227.8 L779.86 1229.29 L781.89 1230.77 L783.91 1232.25 L785.94 1233.72 L787.96 1235.18 L789.98 1236.64 L792.01 1238.09 L794.03 1239.54 L796.05 1240.98 L798.08 1242.41 L800.1 1243.83 L802.12 1245.25 L804.15 1246.67 L806.17 1248.07 L808.19 1249.48 L810.22 1250.87 L812.24 1252.26 L814.26 1253.64 L816.29 1255.01 L818.31 1256.38 L820.34 1257.74 L822.36 1259.1 L824.38 1260.45 L826.41 1261.79 L828.43 1263.13 L830.45 1264.46 L832.48 1265.79 L834.5 1267.1 L836.52 1268.41 L838.55 1269.72 L840.57 1271.02 L842.59 1272.31 L844.62 1273.6 L846.64 1274.88 L848.66 1276.15 L850.69 1277.41 L852.71 1278.68 L854.74 1279.93 L856.76 1281.18 L858.78 1282.42 L860.81 1283.65 L862.83 1284.88 L864.85 1286.1 L866.88 1287.32 L868.9 1288.53 L870.92 1289.73 L872.95 1290.93 L874.97 1292.12 L876.99 1293.3 L879.02 1294.48 L881.04 1295.65 L883.06 1296.81 L885.09 1297.97 L887.11 1299.12 L889.14 1300.27 L891.16 1301.41 L893.18 1302.54 L895.21 1303.67 L897.23 1304.79 L899.25 1305.9 L901.28 1307.01 L903.3 1308.11 L905.32 1309.2 L907.35 1310.29 L909.37 1311.37 L911.39 1312.45 L913.42 1313.52 L915.44 1314.58 L917.47 1315.64 L919.49 1316.69 L921.51 1317.73 L923.54 1318.77 L925.56 1319.8 L927.58 1320.82 L929.61 1321.84 L931.63 1322.85 L933.65 1323.85 L935.68 1324.85 L937.7 1325.85 L939.72 1326.83 L941.75 1327.81 L943.77 1328.78 L945.79 1329.75 L947.82 1330.71 L949.84 1331.67 L951.87 1332.61 L953.89 1333.55 L955.91 1334.49 L957.94 1335.42 L959.96 1336.34 L961.98 1337.26 L964.01 1338.16 L966.03 1339.07 L968.05 1339.96 L970.08 1340.85 L972.1 1341.74 L974.12 1342.62 L976.15 1343.49 L978.17 1344.35 L980.19 1345.21 L982.22 1346.06 L984.24 1346.91 L986.27 1347.75 L988.29 1348.58 L990.31 1349.41 L992.34 1350.23 L994.36 1351.04 L996.38 1351.85 L998.41 1352.65" fill="none" stroke="#f3f3f3" stroke-width="4.6" stroke-dasharray="4.8 6" stroke-linejoin="round"/>
<path d="M593.7 1065.5 L595.72 1065.65 L597.75 1065.79 L599.77 1065.92 L601.79 1066.05 L603.82 1066.16 L605.84 1066.27 L607.86 1066.36 L609.89 1066.45 L611.91 1066.53 L613.94 1066.6 L615.96 1066.66 L617.98 1066.72 L620.01 1066.76 L622.03 1066.8 L624.05 1066.82 L626.08 1066.84 L628.1 1066.85 L630.12 1066.85 L632.15 1066.84 L634.17 1066.83 L636.19 1066.8 L638.22 1066.77 L640.24 1066.73 L642.26 1066.67 L644.29 1066.61 L646.31 1066.54 L648.34 1066.47 L650.36 1066.38 L652.38 1066.28 L654.41 1066.18 L656.43 1066.07 L658.45 1065.95 L660.48 1065.81 L662.5 1065.68 L664.52 1065.53 L666.55 1065.37 L668.57 1065.21 L670.59 1065.03 L672.62 1064.85 L674.64 1064.66 L676.66 1064.46 L678.69 1064.25 L680.71 1064.03 L682.74 1063.8 L684.76 1063.57 L686.78 1063.32 L688.81 1063.07 L690.83 1062.81 L692.85 1062.54 L694.88 1062.26 L696.9 1061.97 L698.92 1061.68 L700.95 1061.37 L702.97 1061.06 L704.99 1060.73 L707.02 1060.4 L709.04 1060.06 L711.06 1059.71 L713.09 1059.35 L715.11 1058.99 L717.14 1058.61 L719.16 1058.23 L721.18 1057.84 L723.21 1057.43 L725.23 1057.02 L727.25 1056.61 L729.28 1056.18 L731.3 1055.74 L733.32 1055.3 L735.35 1054.84 L737.37 1054.38 L739.39 1053.91 L741.42 1053.43 L743.44 1052.94 L745.46 1052.44 L747.49 1051.93 L749.51 1051.42 L751.54 1050.89 L753.56 1050.36 L755.58 1049.82 L757.61 1049.27 L759.63 1048.71 L761.65 1048.14 L763.68 1047.57 L765.7 1046.98 L767.72 1046.39 L769.75 1045.79 L771.77 1045.17 L773.79 1044.55 L775.82 1043.92 L777.84 1043.29 L779.86 1042.64 L781.89 1041.99 L783.91 1041.32 L785.94 1040.65 L787.96 1039.97 L789.98 1039.28 L792.01 1038.58 L794.03 1037.87 L796.05 1037.15 L798.08 1036.43 L800.1 1035.7 L802.12 1034.95 L804.15 1034.2 L806.17 1033.44 L808.19 1032.67 L810.22 1031.9 L812.24 1031.11 L814.26 1030.31 L816.29 1029.51 L818.31 1028.7 L820.34 1027.88 L822.36 1027.05 L824.38 1026.21 L826.41 1025.36 L828.43 1024.5 L830.45 1023.64 L832.48 1022.76 L834.5 1021.88 L836.52 1020.99 L838.55 1020.09 L840.57 1019.18 L842.59 1018.26 L844.62 1017.34 L846.64 1016.4 L848.66 1015.46 L850.69 1014.51 L852.71 1013.54 L854.74 1012.57 L856.76 1011.6 L858.78 1010.61 L860.81 1009.61 L862.83 1008.61 L864.85 1007.59 L866.88 1006.57 L868.9 1005.54 L870.92 1004.5 L872.95 1003.45 L874.97 1002.39 L876.99 1001.33 L879.02 1000.25 L881.04 999.17 L883.06 998.08 L885.09 996.97 L887.11 995.86 L889.14 994.75 L891.16 993.62 L893.18 992.48 L895.21 991.34 L897.23 990.18 L899.25 989.02 L901.28 987.85 L903.3 986.67 L905.32 985.48 L907.35 984.28 L909.37 983.08 L911.39 981.86 L913.42 980.64 L915.44 979.41 L917.47 978.17 L919.49 976.92 L921.51 975.66 L923.54 974.39 L925.56 973.11 L927.58 971.83 L929.61 970.54 L931.63 969.23 L933.65 967.92 L935.68 966.6 L937.7 965.27 L939.72 963.94 L941.75 962.59 L943.77 961.24 L945.79 959.87 L947.82 958.5 L949.84 957.12 L951.87 955.73 L953.89 954.33 L955.91 952.92 L957.94 951.51 L959.96 950.08 L961.98 948.65 L964.01 947.21 L966.03 945.75 L968.05 944.29 L970.08 942.83 L972.1 941.35 L974.12 939.86 L976.15 938.37 L978.17 936.86 L980.19 935.35 L982.22 933.83 L984.24 932.3 L986.27 930.76 L988.29 929.22 L990.31 927.66 L992.34 926.09 L994.36 924.52 L996.38 922.94 L998.41 921.35" fill="none" stroke="#808080" stroke-width="4.6" stroke-dasharray="4.8 6" stroke-linejoin="round"/>
<path d="M593.7 1065.5 L595.72 1066.22 L597.75 1066.94 L599.77 1067.64 L601.79 1068.34 L603.82 1069.03 L605.84 1069.71 L607.86 1070.38 L609.89 1071.04 L611.91 1071.69 L613.94 1072.34 L615.96 1072.97 L617.98 1073.6 L620.01 1074.21 L622.03 1074.82 L624.05 1075.42 L626.08 1076.01 L628.1 1076.59 L630.12 1077.16 L632.15 1077.72 L634.17 1078.28 L636.19 1078.82 L638.22 1079.36 L640.24 1079.89 L642.26 1080.41 L644.29 1080.91 L646.31 1081.42 L648.34 1081.91 L650.36 1082.39 L652.38 1082.86 L654.41 1083.33 L656.43 1083.78 L658.45 1084.23 L660.48 1084.67 L662.5 1085.1 L664.52 1085.52 L666.55 1085.93 L668.57 1086.33 L670.59 1086.72 L672.62 1087.11 L674.64 1087.48 L676.66 1087.85 L678.69 1088.21 L680.71 1088.56 L682.74 1088.9 L684.76 1089.23 L686.78 1089.55 L688.81 1089.86 L690.83 1090.17 L692.85 1090.46 L694.88 1090.75 L696.9 1091.02 L698.92 1091.29 L700.95 1091.55 L702.97 1091.8 L704.99 1092.04 L707.02 1092.28 L709.04 1092.5 L711.06 1092.71 L713.09 1092.92 L715.11 1093.12 L717.14 1093.3 L719.16 1093.48 L721.18 1093.65 L723.21 1093.81 L725.23 1093.97 L727.25 1094.11 L729.28 1094.24 L731.3 1094.37 L733.32 1094.49 L735.35 1094.59 L737.37 1094.69 L739.39 1094.78 L741.42 1094.86 L743.44 1094.93 L745.46 1095 L747.49 1095.05 L749.51 1095.09 L751.54 1095.13 L753.56 1095.16 L755.58 1095.18 L757.61 1095.18 L759.63 1095.19 L761.65 1095.18 L763.68 1095.16 L765.7 1095.13 L767.72 1095.1 L769.75 1095.05 L771.77 1095 L773.79 1094.94 L775.82 1094.87 L777.84 1094.79 L779.86 1094.7 L781.89 1094.6 L783.91 1094.49 L785.94 1094.38 L787.96 1094.25 L789.98 1094.12 L792.01 1093.97 L794.03 1093.82 L796.05 1093.66 L798.08 1093.49 L800.1 1093.31 L802.12 1093.13 L804.15 1092.93 L806.17 1092.73 L808.19 1092.51 L810.22 1092.29 L812.24 1092.06 L814.26 1091.82 L816.29 1091.57 L818.31 1091.31 L820.34 1091.04 L822.36 1090.76 L824.38 1090.48 L826.41 1090.18 L828.43 1089.88 L830.45 1089.57 L832.48 1089.25 L834.5 1088.92 L836.52 1088.58 L838.55 1088.23 L840.57 1087.87 L842.59 1087.5 L844.62 1087.13 L846.64 1086.75 L848.66 1086.35 L850.69 1085.95 L852.71 1085.54 L854.74 1085.12 L856.76 1084.69 L858.78 1084.26 L860.81 1083.81 L862.83 1083.35 L864.85 1082.89 L866.88 1082.42 L868.9 1081.93 L870.92 1081.44 L872.95 1080.94 L874.97 1080.43 L876.99 1079.92 L879.02 1079.39 L881.04 1078.85 L883.06 1078.31 L885.09 1077.76 L887.11 1077.19 L889.14 1076.62 L891.16 1076.04 L893.18 1075.45 L895.21 1074.85 L897.23 1074.25 L899.25 1073.63 L901.28 1073.01 L903.3 1072.37 L905.32 1071.73 L907.35 1071.08 L909.37 1070.42 L911.39 1069.75 L913.42 1069.07 L915.44 1068.38 L917.47 1067.68 L919.49 1066.98 L921.51 1066.26 L923.54 1065.54 L925.56 1064.81 L927.58 1064.07 L929.61 1063.32 L931.63 1062.56 L933.65 1061.79 L935.68 1061.01 L937.7 1060.23 L939.72 1059.43 L941.75 1058.63 L943.77 1057.82 L945.79 1057 L947.82 1056.17 L949.84 1055.33 L951.87 1054.48 L953.89 1053.62 L955.91 1052.75 L957.94 1051.88 L959.96 1050.99 L961.98 1050.1 L964.01 1049.2 L966.03 1048.29 L968.05 1047.37 L970.08 1046.44 L972.1 1045.5 L974.12 1044.56 L976.15 1043.6 L978.17 1042.64 L980.19 1041.66 L982.22 1040.68 L984.24 1039.69 L986.27 1038.69 L988.29 1037.68 L990.31 1036.66 L992.34 1035.64 L994.36 1034.6 L996.38 1033.55 L998.41 1032.5" fill="none" stroke="#808080" stroke-width="4.6" stroke-dasharray="4.8 6" stroke-linejoin="round"/>
</g>
<circle cx="636.74" cy="1062.6" r="6.5" fill="#600fcc" stroke="#2e0268" stroke-width="4.2"/>
<circle cx="681.78" cy="1061.29" r="6.5" fill="#9a0cd5" stroke="#4f0170" stroke-width="4.2"/>
<circle cx="772.72" cy="1045.01" r="6.5" fill="#cc6e9c" stroke="#9b2f63" stroke-width="4.2"/>
<circle cx="818.05" cy="1027.89" r="6.5" fill="#e39496" stroke="#d43336" stroke-width="4.2"/>
<circle cx="863.19" cy="1011.53" r="6.5" fill="#f0ac85" stroke="#f06415" stroke-width="4.2"/>
<circle cx="908.51" cy="983.88" r="6.5" fill="#f6c46f" stroke="#f39a02" stroke-width="4.2"/>
<circle cx="954.6" cy="954.48" r="6.5" fill="#f1e363" stroke="#dcc708" stroke-width="4.2"/>
<circle cx="908.51" cy="1069.45" r="6.5" fill="#f6c46f" stroke="#f39a02" stroke-width="4.2"/>
<text x="-49.32" y="0" font-size="25.5" fill="#4a4a4a" textLength="98.59" lengthAdjust="spacingAndGlyphs" transform="translate(824.4,1005.6) rotate(-21)"><tspan>+3 MHz</tspan></text>
<text x="-56.76" y="0" font-size="25.5" fill="#4a4a4a" textLength="113.5" lengthAdjust="spacingAndGlyphs" transform="translate(847.3,1119.4) rotate(-10.4)"><tspan>+19 MHz</tspan></text>
<rect x="153.3" y="890.2" width="400.1" height="350.7" fill="none" stroke="#000" stroke-width="2.74" stroke-linejoin="miter"/>
<line x1="153.3" y1="1240.9" x2="153.3" y2="1253.1" stroke="#000" stroke-width="2.74"/>
<text x="143.49" y="1292.8" font-size="35.4" fill="#000" textLength="19.49" lengthAdjust="spacingAndGlyphs"><tspan>0</tspan></text>
<line x1="343.75" y1="1240.9" x2="343.75" y2="1253.1" stroke="#000" stroke-width="2.74"/>
<text x="323.1" y="1292.8" font-size="35.4" fill="#000" textLength="40.84" lengthAdjust="spacingAndGlyphs"><tspan>20</tspan></text>
<line x1="534.2" y1="1240.9" x2="534.2" y2="1253.1" stroke="#000" stroke-width="2.74"/>
<text x="514.24" y="1292.8" font-size="35.4" fill="#000" textLength="40.55" lengthAdjust="spacingAndGlyphs"><tspan>40</tspan></text>
<line x1="153.3" y1="1175.2" x2="141.1" y2="1175.2" stroke="#000" stroke-width="2.74"/>
<line x1="153.3" y1="1065.5" x2="141.1" y2="1065.5" stroke="#000" stroke-width="2.74"/>
<line x1="153.3" y1="955.8" x2="141.1" y2="955.8" stroke="#000" stroke-width="2.74"/>
<rect x="593.7" y="890.2" width="399.8" height="350.7" fill="none" stroke="#000" stroke-width="2.74" stroke-linejoin="miter"/>
<line x1="593.7" y1="1240.9" x2="593.7" y2="1253.1" stroke="#000" stroke-width="2.74"/>
<text x="583.89" y="1292.8" font-size="35.4" fill="#000" textLength="19.49" lengthAdjust="spacingAndGlyphs"><tspan>0</tspan></text>
<line x1="784.15" y1="1240.9" x2="784.15" y2="1253.1" stroke="#000" stroke-width="2.74"/>
<text x="763.5" y="1292.8" font-size="35.4" fill="#000" textLength="40.84" lengthAdjust="spacingAndGlyphs"><tspan>20</tspan></text>
<line x1="974.6" y1="1240.9" x2="974.6" y2="1253.1" stroke="#000" stroke-width="2.74"/>
<text x="954.64" y="1292.8" font-size="35.4" fill="#000" textLength="40.55" lengthAdjust="spacingAndGlyphs"><tspan>40</tspan></text>
<line x1="593.7" y1="1175.2" x2="581.5" y2="1175.2" stroke="#000" stroke-width="2.74"/>
<line x1="593.7" y1="1065.5" x2="581.5" y2="1065.5" stroke="#000" stroke-width="2.74"/>
<line x1="593.7" y1="955.8" x2="581.5" y2="955.8" stroke="#000" stroke-width="2.74"/>
<text x="57.87" y="1187.77" font-size="35.4" fill="#000" textLength="67.57" lengthAdjust="spacingAndGlyphs"><tspan>−25</tspan></text>
<text x="105.58" y="1078.07" font-size="35.4" fill="#000" textLength="19.49" lengthAdjust="spacingAndGlyphs"><tspan>0</tspan></text>
<text x="85.03" y="968.37" font-size="35.4" fill="#000" textLength="40.31" lengthAdjust="spacingAndGlyphs"><tspan>25</tspan></text>
<text x="109.82" y="882.1" font-size="46" fill="#000" textLength="26.15" lengthAdjust="spacingAndGlyphs"><tspan style="font-weight:bold">c</tspan></text>
<text x="179.53" y="1343.6" font-size="35.4" fill="#000" textLength="143.54" lengthAdjust="spacingAndGlyphs"><tspan>Intensity</tspan></text>
<text x="340.25" y="1343.6" font-size="35.4" fill="#000" textLength="9.83" lengthAdjust="spacingAndGlyphs"><tspan style="font-style:italic">I</tspan></text>
<text x="353.51" y="1343.6" font-size="35.4" fill="#000" textLength="61.75" lengthAdjust="spacingAndGlyphs"><tspan>(kW</tspan></text>
<text x="422.56" y="1343.6" font-size="35.4" fill="#000" textLength="54.73" lengthAdjust="spacingAndGlyphs"><tspan>cm</tspan></text>
<text x="513.23" y="1343.6" font-size="35.4" fill="#000" textLength="11.79" lengthAdjust="spacingAndGlyphs"><tspan>)</tspan></text>
<text x="476.09" y="1330.86" font-size="24.78" fill="#000" textLength="34.42" lengthAdjust="spacingAndGlyphs"><tspan>−2</tspan></text>
<text x="619.73" y="1343.6" font-size="35.4" fill="#000" textLength="143.54" lengthAdjust="spacingAndGlyphs"><tspan>Intensity</tspan></text>
<text x="780.45" y="1343.6" font-size="35.4" fill="#000" textLength="9.83" lengthAdjust="spacingAndGlyphs"><tspan style="font-style:italic">I</tspan></text>
<text x="793.71" y="1343.6" font-size="35.4" fill="#000" textLength="61.75" lengthAdjust="spacingAndGlyphs"><tspan>(kW</tspan></text>
<text x="862.76" y="1343.6" font-size="35.4" fill="#000" textLength="54.73" lengthAdjust="spacingAndGlyphs"><tspan>cm</tspan></text>
<text x="953.43" y="1343.6" font-size="35.4" fill="#000" textLength="11.79" lengthAdjust="spacingAndGlyphs"><tspan>)</tspan></text>
<text x="916.29" y="1330.86" font-size="24.78" fill="#000" textLength="34.42" lengthAdjust="spacingAndGlyphs"><tspan>−2</tspan></text>
<g transform="translate(28.8,1062.55) rotate(-90)">
<text x="-209.86" y="0" font-size="36.2" fill="#000" textLength="420.76" lengthAdjust="spacingAndGlyphs"><tspan style="font-style:italic">f</tspan><tspan> - 980,385,597.3 Hz (Hz)</tspan></text>
</g>
<text x="162.99" y="926.7" font-size="28.6" fill="#000" textLength="71.58" lengthAdjust="spacingAndGlyphs"><tspan style="font-style:italic">β</tspan><tspan> = 0</tspan></text>
<circle cx="240.0" cy="904.7" r="2.6" fill="none" stroke="#000" stroke-width="1.5"/>
<text x="603" y="925.8" font-size="28.6" fill="#000" textLength="90.22" lengthAdjust="spacingAndGlyphs"><tspan style="font-style:italic">β</tspan><tspan> = 90</tspan></text>
<circle cx="698.8" cy="903.8" r="2.6" fill="none" stroke="#000" stroke-width="1.5"/>
</svg></body></html>
